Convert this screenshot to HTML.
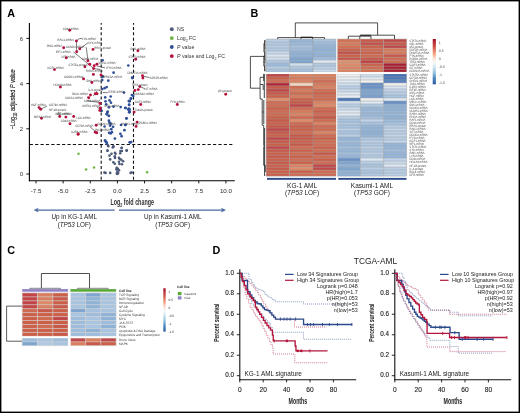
<!DOCTYPE html>
<html><head><meta charset="utf-8">
<style>
html,body{margin:0;padding:0;background:#fff;}
body{width:520px;height:413px;overflow:hidden;position:relative;}
svg{position:absolute;left:0;top:0;will-change:transform;}
text{font-family:"Liberation Sans",sans-serif;}
</style></head><body>
<svg width="520" height="413" viewBox="0 0 520 413">
<rect x="0" y="0" width="520" height="413" fill="#fff"/>

<rect x="0.7" y="0.7" width="518.6" height="411.6" fill="none" stroke="#000" stroke-width="1.4"/>
<text x="7.2" y="16.5" font-size="10.8" font-weight="bold" fill="#000">A</text>
<text x="250.6" y="16.9" font-size="10.8" font-weight="bold" fill="#000">B</text>
<text x="7.2" y="253.8" font-size="10.8" font-weight="bold" fill="#000">C</text>
<text x="212.5" y="253.7" font-size="10.8" font-weight="bold" fill="#000">D</text>
<line x1="29.4" y1="23" x2="29.4" y2="181.3" stroke="#000" stroke-width="1.1"/>
<line x1="28.9" y1="180.8" x2="234.8" y2="180.8" stroke="#000" stroke-width="1.1"/>
<line x1="26.3" y1="174.00" x2="29.4" y2="174.00" stroke="#000" stroke-width="0.9"/>
<text x="21.3" y="176.10" font-size="6" text-anchor="middle" fill="#333">0</text>
<line x1="26.3" y1="128.80" x2="29.4" y2="128.80" stroke="#000" stroke-width="0.9"/>
<text x="21.3" y="130.90" font-size="6" text-anchor="middle" fill="#333">2</text>
<line x1="26.3" y1="83.60" x2="29.4" y2="83.60" stroke="#000" stroke-width="0.9"/>
<text x="21.3" y="85.70" font-size="6" text-anchor="middle" fill="#333">4</text>
<line x1="26.3" y1="38.40" x2="29.4" y2="38.40" stroke="#000" stroke-width="0.9"/>
<text x="21.3" y="40.50" font-size="6" text-anchor="middle" fill="#333">6</text>
<line x1="36.03" y1="180.8" x2="36.03" y2="183.4" stroke="#000" stroke-width="0.9"/>
<text x="36.03" y="192.6" font-size="6.2" text-anchor="middle" fill="#2a2a2a">-7.5</text>
<line x1="63.15" y1="180.8" x2="63.15" y2="183.4" stroke="#000" stroke-width="0.9"/>
<text x="63.15" y="192.6" font-size="6.2" text-anchor="middle" fill="#2a2a2a">-5.0</text>
<line x1="90.28" y1="180.8" x2="90.28" y2="183.4" stroke="#000" stroke-width="0.9"/>
<text x="90.28" y="192.6" font-size="6.2" text-anchor="middle" fill="#2a2a2a">-2.5</text>
<line x1="117.40" y1="180.8" x2="117.40" y2="183.4" stroke="#000" stroke-width="0.9"/>
<text x="117.40" y="192.6" font-size="6.2" text-anchor="middle" fill="#2a2a2a">0.0</text>
<line x1="144.53" y1="180.8" x2="144.53" y2="183.4" stroke="#000" stroke-width="0.9"/>
<text x="144.53" y="192.6" font-size="6.2" text-anchor="middle" fill="#2a2a2a">2.5</text>
<line x1="171.65" y1="180.8" x2="171.65" y2="183.4" stroke="#000" stroke-width="0.9"/>
<text x="171.65" y="192.6" font-size="6.2" text-anchor="middle" fill="#2a2a2a">5.0</text>
<line x1="198.78" y1="180.8" x2="198.78" y2="183.4" stroke="#000" stroke-width="0.9"/>
<text x="198.78" y="192.6" font-size="6.2" text-anchor="middle" fill="#2a2a2a">7.5</text>
<line x1="225.90" y1="180.8" x2="225.90" y2="183.4" stroke="#000" stroke-width="0.9"/>
<text x="225.90" y="192.6" font-size="6.2" text-anchor="middle" fill="#2a2a2a">10.0</text>
<line x1="101.2" y1="23" x2="101.2" y2="180.8" stroke="#111" stroke-width="1.1" stroke-dasharray="3.0 2.35" stroke-dashoffset="1.35"/>
<line x1="133.5" y1="23" x2="133.5" y2="180.8" stroke="#111" stroke-width="1.1" stroke-dasharray="3.0 2.35" stroke-dashoffset="1.35"/>
<line x1="29.4" y1="144.5" x2="234.6" y2="144.5" stroke="#111" stroke-width="1.1" stroke-dasharray="3.2 2.19" stroke-dashoffset="-0.33"/>
<g transform="translate(14.9,99.4) rotate(-90)"><g transform="scale(0.82,1)"><text x="0" y="0" font-size="6.9" text-anchor="middle" fill="#222" stroke="#222" stroke-width="0.15">&#8722;Log<tspan font-size="4.6" dy="1.6">10</tspan><tspan dy="-1.6"> adjusted </tspan><tspan font-style="italic">P</tspan> value</text></g></g>
<g transform="translate(132.2,204.9) scale(0.64,1)"><text x="0" y="0" font-size="8.4" font-weight="bold" text-anchor="middle" fill="#333">Log<tspan font-size="5.6" dy="2">2</tspan><tspan dy="-2"> fold change</tspan></text></g>
<line x1="36" y1="210.1" x2="114.7" y2="210.1" stroke="#4a6aa0" stroke-width="1.2"/>
<path d="M33.6 210.1 L38.6 207.8 L37.4 210.1 L38.6 212.4 Z" fill="#4a6aa0"/>
<line x1="119" y1="210.1" x2="223.5" y2="210.1" stroke="#4a6aa0" stroke-width="1.2"/>
<path d="M226 210.1 L221 207.8 L222.2 210.1 L221 212.4 Z" fill="#4a6aa0"/>
<text x="74.3" y="218.8" font-size="6.3" text-anchor="middle" fill="#222">Up in KG-1 AML</text>
<text x="74.3" y="226.6" font-size="6.3" text-anchor="middle" fill="#222">(<tspan font-style="italic">TP53</tspan> LOF)</text>
<text x="172.7" y="218.8" font-size="6.3" text-anchor="middle" fill="#222">Up in Kasumi-1 AML</text>
<text x="172.7" y="226.6" font-size="6.3" text-anchor="middle" fill="#222">(<tspan font-style="italic">TP53</tspan> GOF)</text>
<circle cx="171.8" cy="29.2" r="1.9" fill="#4b5877"/>
<text x="177" y="31.0" font-size="5.2" fill="#333">NS</text>
<circle cx="171.8" cy="38.1" r="1.9" fill="#6cb33f"/>
<text x="177" y="39.9" font-size="5.2" fill="#333">Log<tspan font-size="3.6" dy="2">2</tspan><tspan dy="-2"> FC</tspan></text>
<circle cx="171.8" cy="47" r="1.9" fill="#2f5096"/>
<text x="177" y="48.8" font-size="5.2" fill="#333"><tspan font-style="italic">P</tspan> value</text>
<circle cx="171.8" cy="56.1" r="1.9" fill="#b3113c"/>
<text x="177" y="57.9" font-size="5.2" fill="#333"><tspan font-style="italic">P</tspan> value and Log<tspan font-size="3.6" dy="2">2</tspan><tspan dy="-2"> FC</tspan></text>
<circle cx="107.1" cy="144.3" r="1.3" fill="#4b5877"/>
<circle cx="108.3" cy="146.1" r="1.3" fill="#4b5877"/>
<circle cx="113.5" cy="146.7" r="1.3" fill="#4b5877"/>
<circle cx="121.6" cy="148" r="1.3" fill="#4b5877"/>
<circle cx="107.4" cy="150.7" r="1.3" fill="#4b5877"/>
<circle cx="114.9" cy="152.8" r="1.3" fill="#4b5877"/>
<circle cx="120.4" cy="151" r="1.3" fill="#4b5877"/>
<circle cx="126.8" cy="150.4" r="1.3" fill="#4b5877"/>
<circle cx="108.1" cy="146" r="1.3" fill="#4b5877"/>
<circle cx="113.3" cy="146.3" r="1.3" fill="#4b5877"/>
<circle cx="112.7" cy="147.5" r="1.3" fill="#4b5877"/>
<circle cx="121.7" cy="147.8" r="1.3" fill="#4b5877"/>
<circle cx="121.9" cy="151" r="1.3" fill="#4b5877"/>
<circle cx="126.5" cy="150.6" r="1.3" fill="#4b5877"/>
<circle cx="107.5" cy="150.6" r="1.3" fill="#4b5877"/>
<circle cx="111.5" cy="153.8" r="1.3" fill="#4b5877"/>
<circle cx="109.5" cy="155.6" r="1.3" fill="#4b5877"/>
<circle cx="115.6" cy="153.8" r="1.3" fill="#4b5877"/>
<circle cx="114.8" cy="156.2" r="1.3" fill="#4b5877"/>
<circle cx="115" cy="157.9" r="1.3" fill="#4b5877"/>
<circle cx="120.2" cy="153.3" r="1.3" fill="#4b5877"/>
<circle cx="119" cy="157.9" r="1.3" fill="#4b5877"/>
<circle cx="119.8" cy="159" r="1.3" fill="#4b5877"/>
<circle cx="110.2" cy="159.4" r="1.3" fill="#4b5877"/>
<circle cx="113.3" cy="162.2" r="1.3" fill="#4b5877"/>
<circle cx="114.8" cy="163.7" r="1.3" fill="#4b5877"/>
<circle cx="119" cy="161.7" r="1.3" fill="#4b5877"/>
<circle cx="121.3" cy="159.8" r="1.3" fill="#4b5877"/>
<circle cx="123.1" cy="161.3" r="1.3" fill="#4b5877"/>
<circle cx="121.9" cy="164.2" r="1.3" fill="#4b5877"/>
<circle cx="119.4" cy="164" r="1.3" fill="#4b5877"/>
<circle cx="116.7" cy="167.7" r="1.3" fill="#4b5877"/>
<circle cx="117.9" cy="168.8" r="1.3" fill="#4b5877"/>
<circle cx="119" cy="170.2" r="1.3" fill="#4b5877"/>
<circle cx="117.3" cy="171.7" r="1.3" fill="#4b5877"/>
<circle cx="117.5" cy="174" r="1.3" fill="#4b5877"/>
<circle cx="104.4" cy="172.5" r="1.3" fill="#4b5877"/>
<circle cx="105.5" cy="172.9" r="1.3" fill="#4b5877"/>
<circle cx="110.2" cy="172.9" r="1.3" fill="#4b5877"/>
<circle cx="130.6" cy="172.9" r="1.3" fill="#4b5877"/>
<circle cx="131.7" cy="172.5" r="1.3" fill="#4b5877"/>
<circle cx="116.4" cy="169.4" r="1.3" fill="#4b5877"/>
<circle cx="118.2" cy="172.8" r="1.3" fill="#4b5877"/>
<circle cx="116.8" cy="173.5" r="1.3" fill="#4b5877"/>
<circle cx="102.6" cy="60.3" r="1.35" fill="#2f5096"/>
<circle cx="128.3" cy="65.5" r="1.35" fill="#2f5096"/>
<circle cx="113.6" cy="72.7" r="1.35" fill="#2f5096"/>
<circle cx="108.3" cy="80.7" r="1.35" fill="#2f5096"/>
<circle cx="102.2" cy="80.1" r="1.35" fill="#2f5096"/>
<circle cx="102.6" cy="76.9" r="1.35" fill="#2f5096"/>
<circle cx="104.6" cy="88.2" r="1.35" fill="#2f5096"/>
<circle cx="106.7" cy="87.1" r="1.35" fill="#2f5096"/>
<circle cx="102.2" cy="89" r="1.35" fill="#2f5096"/>
<circle cx="124" cy="92.6" r="1.35" fill="#2f5096"/>
<circle cx="105.2" cy="97.4" r="1.35" fill="#2f5096"/>
<circle cx="110.7" cy="96.5" r="1.35" fill="#2f5096"/>
<circle cx="105.5" cy="101.3" r="1.35" fill="#2f5096"/>
<circle cx="109.5" cy="100.4" r="1.35" fill="#2f5096"/>
<circle cx="111" cy="102.7" r="1.35" fill="#2f5096"/>
<circle cx="106.2" cy="104.3" r="1.35" fill="#2f5096"/>
<circle cx="108.9" cy="107.3" r="1.35" fill="#2f5096"/>
<circle cx="113.5" cy="106.7" r="1.35" fill="#2f5096"/>
<circle cx="120.7" cy="107.1" r="1.35" fill="#2f5096"/>
<circle cx="125.2" cy="108" r="1.35" fill="#2f5096"/>
<circle cx="107.7" cy="111.6" r="1.35" fill="#2f5096"/>
<circle cx="101" cy="110.7" r="1.35" fill="#2f5096"/>
<circle cx="106.5" cy="114" r="1.35" fill="#2f5096"/>
<circle cx="132.1" cy="77.7" r="1.35" fill="#2f5096"/>
<circle cx="130.9" cy="98.3" r="1.35" fill="#2f5096"/>
<circle cx="128.8" cy="101" r="1.35" fill="#2f5096"/>
<circle cx="129.1" cy="104.7" r="1.35" fill="#2f5096"/>
<circle cx="128.8" cy="108.5" r="1.35" fill="#2f5096"/>
<circle cx="129.4" cy="111.6" r="1.35" fill="#2f5096"/>
<circle cx="131.9" cy="95" r="1.35" fill="#2f5096"/>
<circle cx="132.5" cy="78.1" r="1.35" fill="#2f5096"/>
<circle cx="133.2" cy="95.9" r="1.35" fill="#2f5096"/>
<circle cx="131" cy="98.7" r="1.35" fill="#2f5096"/>
<circle cx="129.6" cy="101.1" r="1.35" fill="#2f5096"/>
<circle cx="129.2" cy="105" r="1.35" fill="#2f5096"/>
<circle cx="129.6" cy="101.2" r="1.35" fill="#2f5096"/>
<circle cx="125.6" cy="107.9" r="1.35" fill="#2f5096"/>
<circle cx="129.6" cy="109.7" r="1.35" fill="#2f5096"/>
<circle cx="129.8" cy="112.1" r="1.35" fill="#2f5096"/>
<circle cx="126.5" cy="118.4" r="1.35" fill="#2f5096"/>
<circle cx="125.6" cy="124.8" r="1.35" fill="#2f5096"/>
<circle cx="129.8" cy="142.3" r="1.35" fill="#2f5096"/>
<circle cx="128.2" cy="109.6" r="1.35" fill="#2f5096"/>
<circle cx="129.2" cy="112.3" r="1.35" fill="#2f5096"/>
<circle cx="101.6" cy="110.8" r="1.35" fill="#2f5096"/>
<circle cx="107.4" cy="112.3" r="1.35" fill="#2f5096"/>
<circle cx="107.1" cy="114.4" r="1.35" fill="#2f5096"/>
<circle cx="108.9" cy="115.9" r="1.35" fill="#2f5096"/>
<circle cx="126.4" cy="118.3" r="1.35" fill="#2f5096"/>
<circle cx="108.9" cy="120.7" r="1.35" fill="#2f5096"/>
<circle cx="109.5" cy="122.5" r="1.35" fill="#2f5096"/>
<circle cx="110.7" cy="123.7" r="1.35" fill="#2f5096"/>
<circle cx="104.6" cy="126.5" r="1.35" fill="#2f5096"/>
<circle cx="110.1" cy="125.6" r="1.35" fill="#2f5096"/>
<circle cx="113.1" cy="126.8" r="1.35" fill="#2f5096"/>
<circle cx="121" cy="125" r="1.35" fill="#2f5096"/>
<circle cx="125.2" cy="125" r="1.35" fill="#2f5096"/>
<circle cx="111.3" cy="129.2" r="1.35" fill="#2f5096"/>
<circle cx="124.4" cy="130.2" r="1.35" fill="#2f5096"/>
<circle cx="109.1" cy="132.8" r="1.35" fill="#2f5096"/>
<circle cx="110.7" cy="133.4" r="1.35" fill="#2f5096"/>
<circle cx="111.9" cy="132.2" r="1.35" fill="#2f5096"/>
<circle cx="120.4" cy="133.8" r="1.35" fill="#2f5096"/>
<circle cx="121.6" cy="136.2" r="1.35" fill="#2f5096"/>
<circle cx="114.9" cy="138.6" r="1.35" fill="#2f5096"/>
<circle cx="105" cy="140.7" r="1.35" fill="#2f5096"/>
<circle cx="106.7" cy="142.5" r="1.35" fill="#2f5096"/>
<circle cx="130" cy="142.3" r="1.35" fill="#2f5096"/>
<circle cx="105.2" cy="140.6" r="1.35" fill="#2f5096"/>
<circle cx="106.3" cy="142.3" r="1.35" fill="#2f5096"/>
<circle cx="131.2" cy="142.1" r="1.35" fill="#2f5096"/>
<circle cx="78.5" cy="153.8" r="1.25" fill="#6cb33f"/>
<circle cx="86.1" cy="169.5" r="1.25" fill="#6cb33f"/>
<circle cx="94" cy="167.6" r="1.25" fill="#6cb33f"/>
<circle cx="147.1" cy="172.2" r="1.25" fill="#6cb33f"/>
<line x1="76.4" y1="40.9" x2="79.4" y2="38.6" stroke="#222" stroke-width="0.6"/>
<line x1="79.4" y1="38.6" x2="82" y2="38.4" stroke="#222" stroke-width="0.6"/>
<line x1="76.4" y1="40.9" x2="76.7" y2="51.8" stroke="#222" stroke-width="0.6"/>
<line x1="79.8" y1="48.7" x2="85" y2="45" stroke="#222" stroke-width="0.6"/>
<line x1="85" y1="45" x2="88" y2="42.7" stroke="#222" stroke-width="0.6"/>
<line x1="86.3" y1="47.2" x2="87.9" y2="60.8" stroke="#222" stroke-width="0.6"/>
<line x1="73.6" y1="52" x2="93.6" y2="68.4" stroke="#222" stroke-width="0.6"/>
<line x1="96.9" y1="66" x2="105" y2="67.8" stroke="#222" stroke-width="0.6"/>
<line x1="83.6" y1="78.9" x2="82.4" y2="76.6" stroke="#222" stroke-width="0.6"/>
<line x1="40.7" y1="109.2" x2="47" y2="106" stroke="#222" stroke-width="0.6"/>
<line x1="58.8" y1="112.3" x2="59.7" y2="116.5" stroke="#222" stroke-width="0.6"/>
<line x1="95.5" y1="131.5" x2="90" y2="126.8" stroke="#222" stroke-width="0.6"/>
<line x1="142.6" y1="76" x2="149.5" y2="77.6" stroke="#222" stroke-width="0.6"/>
<line x1="139.8" y1="86.6" x2="144.5" y2="88.5" stroke="#222" stroke-width="0.6"/>
<line x1="93.6" y1="68.6" x2="100.5" y2="69.5" stroke="#222" stroke-width="0.6"/>
<line x1="101" y1="74.9" x2="104" y2="76.2" stroke="#222" stroke-width="0.6"/>
<line x1="95.3" y1="93.8" x2="97" y2="91" stroke="#222" stroke-width="0.6"/>
<line x1="102.8" y1="92.6" x2="107.7" y2="92.6" stroke="#222" stroke-width="0.6"/>
<line x1="93.1" y1="95.8" x2="96.8" y2="92.8" stroke="#222" stroke-width="0.6"/>
<line x1="87.1" y1="97" x2="89.5" y2="98.3" stroke="#222" stroke-width="0.6"/>
<line x1="87.1" y1="100.7" x2="99.8" y2="102.5" stroke="#222" stroke-width="0.6"/>
<line x1="96.8" y1="106.7" x2="99.8" y2="109.2" stroke="#222" stroke-width="0.6"/>
<line x1="82.9" y1="78.3" x2="84.1" y2="79.5" stroke="#222" stroke-width="0.6"/>
<line x1="101.5" y1="75" x2="104.5" y2="76.5" stroke="#222" stroke-width="0.6"/>
<circle cx="69.7" cy="30.3" r="1.45" fill="#b3113c"/>
<circle cx="76.4" cy="40.9" r="1.45" fill="#b3113c"/>
<circle cx="63.7" cy="47.8" r="1.45" fill="#b3113c"/>
<circle cx="79.8" cy="48.7" r="1.45" fill="#b3113c"/>
<circle cx="76.7" cy="51.8" r="1.45" fill="#b3113c"/>
<circle cx="66.3" cy="57.7" r="1.45" fill="#b3113c"/>
<circle cx="84.9" cy="66.8" r="1.45" fill="#b3113c"/>
<circle cx="54.5" cy="69.6" r="1.45" fill="#b3113c"/>
<circle cx="93" cy="49.4" r="1.45" fill="#b3113c"/>
<circle cx="87.9" cy="60.8" r="1.45" fill="#b3113c"/>
<circle cx="89.7" cy="64.2" r="1.45" fill="#b3113c"/>
<circle cx="94.2" cy="65.7" r="1.45" fill="#b3113c"/>
<circle cx="96.9" cy="64.2" r="1.45" fill="#b3113c"/>
<circle cx="93.6" cy="68.6" r="1.45" fill="#b3113c"/>
<circle cx="137.9" cy="50.8" r="1.45" fill="#b3113c"/>
<circle cx="135.7" cy="59.3" r="1.45" fill="#b3113c"/>
<circle cx="83.6" cy="78.9" r="1.45" fill="#b3113c"/>
<circle cx="60.4" cy="87" r="1.45" fill="#b3113c"/>
<circle cx="39.1" cy="107.6" r="1.45" fill="#b3113c"/>
<circle cx="40.7" cy="109.2" r="1.45" fill="#b3113c"/>
<circle cx="93.4" cy="74.4" r="1.45" fill="#b3113c"/>
<circle cx="101" cy="74.9" r="1.45" fill="#b3113c"/>
<circle cx="91.9" cy="82.5" r="1.45" fill="#b3113c"/>
<circle cx="90.5" cy="95" r="1.45" fill="#b3113c"/>
<circle cx="95.3" cy="93.8" r="1.45" fill="#b3113c"/>
<circle cx="97" cy="93.8" r="1.45" fill="#b3113c"/>
<circle cx="88.7" cy="97.7" r="1.45" fill="#b3113c"/>
<circle cx="100" cy="103.5" r="1.45" fill="#b3113c"/>
<circle cx="100.4" cy="108" r="1.45" fill="#b3113c"/>
<circle cx="99.8" cy="110.4" r="1.45" fill="#b3113c"/>
<circle cx="142.5" cy="75.7" r="1.45" fill="#b3113c"/>
<circle cx="142.9" cy="78.1" r="1.45" fill="#b3113c"/>
<circle cx="139.8" cy="86.6" r="1.45" fill="#b3113c"/>
<circle cx="138.3" cy="89.6" r="1.45" fill="#b3113c"/>
<circle cx="134.9" cy="90.5" r="1.45" fill="#b3113c"/>
<circle cx="140.7" cy="104.5" r="1.45" fill="#b3113c"/>
<circle cx="177.3" cy="104.5" r="1.45" fill="#b3113c"/>
<circle cx="225.7" cy="94.2" r="1.45" fill="#b3113c"/>
<circle cx="41.5" cy="118.3" r="1.45" fill="#b3113c"/>
<circle cx="59.7" cy="116.5" r="1.45" fill="#b3113c"/>
<circle cx="65.9" cy="117.1" r="1.45" fill="#b3113c"/>
<circle cx="73.7" cy="116.5" r="1.45" fill="#b3113c"/>
<circle cx="70" cy="123.7" r="1.45" fill="#b3113c"/>
<circle cx="78.2" cy="134.3" r="1.45" fill="#b3113c"/>
<circle cx="96.2" cy="125.3" r="1.45" fill="#b3113c"/>
<circle cx="95.3" cy="132.2" r="1.45" fill="#b3113c"/>
<circle cx="96.8" cy="132.8" r="1.45" fill="#b3113c"/>
<circle cx="78" cy="134" r="1.45" fill="#b3113c"/>
<circle cx="134.1" cy="112.1" r="1.45" fill="#b3113c"/>
<circle cx="137.1" cy="122.1" r="1.45" fill="#b3113c"/>
<circle cx="136.1" cy="126.4" r="1.45" fill="#b3113c"/>
<text transform="translate(62.8,29.60) skewX(0.5) scale(0.86,1)" font-size="3.2" fill="#3a3a3a">CD44-mRNA</text>
<text transform="translate(57.6,41.10) skewX(0.5) scale(0.86,1)" font-size="3.2" fill="#3a3a3a">RAC1-mRNA</text>
<text transform="translate(46.7,47.20) skewX(0.5) scale(0.86,1)" font-size="3.2" fill="#3a3a3a">PIM1-mRNA</text>
<text transform="translate(66,47.60) skewX(0.5) scale(0.86,1)" font-size="3.2" fill="#3a3a3a">CCND3-mRNA</text>
<text transform="translate(55.8,53.40) skewX(0.5) scale(0.86,1)" font-size="3.2" fill="#3a3a3a">IRF1-mRNA</text>
<text transform="translate(61.3,57.70) skewX(0.5) scale(0.86,1)" font-size="3.2" fill="#3a3a3a">SET-mRNA</text>
<text transform="translate(68.5,65.50) skewX(0.5) scale(0.86,1)" font-size="3.2" fill="#3a3a3a">STAT5a-protein</text>
<text transform="translate(47.4,68.60) skewX(0.5) scale(0.86,1)" font-size="3.2" fill="#3a3a3a">IKZF1-mRNA</text>
<text transform="translate(82,39.80) skewX(0.5) scale(0.86,1)" font-size="3.2" fill="#3a3a3a">LYN-mRNA</text>
<text transform="translate(88,44.10) skewX(0.5) scale(0.86,1)" font-size="3.2" fill="#3a3a3a">SYK-mRNA</text>
<text transform="translate(94.2,49.00) skewX(0.5) scale(0.86,1)" font-size="3.2" fill="#3a3a3a">RRAS-protein</text>
<text transform="translate(82,59.90) skewX(0.5) scale(0.86,1)" font-size="3.2" fill="#3a3a3a">CDK2-mRNA</text>
<text transform="translate(98.4,64.40) skewX(0.5) scale(0.86,1)" font-size="3.2" fill="#3a3a3a">MEIS1-mRNA</text>
<text transform="translate(106.3,69.20) skewX(0.5) scale(0.86,1)" font-size="3.2" fill="#3a3a3a">IFYN-mRNA</text>
<text transform="translate(130.3,50.20) skewX(0.5) scale(0.86,1)" font-size="3.2" fill="#3a3a3a">IDH1-mRNA</text>
<text transform="translate(128.5,58.30) skewX(0.5) scale(0.86,1)" font-size="3.2" fill="#3a3a3a">STAT3-mRNA</text>
<text transform="translate(64.3,77.50) skewX(0.5) scale(0.86,1)" font-size="3.2" fill="#3a3a3a">CCND3-mRNA</text>
<text transform="translate(53.4,86.10) skewX(0.5) scale(0.86,1)" font-size="3.2" fill="#3a3a3a">HOXA9-mRNA</text>
<text transform="translate(72.2,94.80) skewX(0.5) scale(0.86,1)" font-size="3.2" fill="#3a3a3a">BCL6-mRNA</text>
<text transform="translate(64.9,99.30) skewX(0.5) scale(0.86,1)" font-size="3.2" fill="#3a3a3a">SOCS1-mRNA</text>
<text transform="translate(31,106.30) skewX(0.5) scale(0.86,1)" font-size="3.2" fill="#3a3a3a">HGF-mRNA</text>
<text transform="translate(49.2,106.30) skewX(0.5) scale(0.86,1)" font-size="3.2" fill="#3a3a3a">CD79A-mRNA</text>
<text transform="translate(49.2,111.20) skewX(0.5) scale(0.86,1)" font-size="3.2" fill="#3a3a3a">NF-kB-protein</text>
<text transform="translate(57,114.80) skewX(0.5) scale(0.86,1)" font-size="3.2" fill="#3a3a3a">WT1-mRNA</text>
<text transform="translate(85.9,72.40) skewX(0.5) scale(0.86,1)" font-size="3.2" fill="#3a3a3a">RHOA-mRNA</text>
<text transform="translate(104,78.10) skewX(0.5) scale(0.86,1)" font-size="3.2" fill="#3a3a3a">PRKCA-mRNA</text>
<text transform="translate(85.9,81.50) skewX(0.5) scale(0.86,1)" font-size="3.2" fill="#3a3a3a">IDH2-mRNA</text>
<text transform="translate(88.3,90.60) skewX(0.5) scale(0.86,1)" font-size="3.2" fill="#3a3a3a">IL-6-protein</text>
<text transform="translate(82.3,106.90) skewX(0.5) scale(0.86,1)" font-size="3.2" fill="#3a3a3a">CHEK1-mRNA</text>
<text transform="translate(84,102.10) skewX(0.5) scale(0.86,1)" font-size="3.2" fill="#3a3a3a">CDK6-mRNA</text>
<text transform="translate(108.3,93.30) skewX(0.5) scale(0.86,1)" font-size="3.2" fill="#3a3a3a">EIF4E-mRNA</text>
<text transform="translate(104.6,106.90) skewX(0.5) scale(0.86,1)" font-size="3.2" fill="#3a3a3a">MYC-mRNA</text>
<text transform="translate(127.4,74.10) skewX(0.5) scale(0.86,1)" font-size="3.2" fill="#3a3a3a">DNMT3A-mRNA</text>
<text transform="translate(149.8,79.20) skewX(0.5) scale(0.86,1)" font-size="3.2" fill="#3a3a3a">CDF2R-mRNA</text>
<text transform="translate(131.7,86.40) skewX(0.5) scale(0.86,1)" font-size="3.2" fill="#3a3a3a">TP53-protein</text>
<text transform="translate(144.4,90.40) skewX(0.5) scale(0.86,1)" font-size="3.2" fill="#3a3a3a">KIT-mRNA</text>
<text transform="translate(134,95.00) skewX(0.5) scale(0.86,1)" font-size="3.2" fill="#3a3a3a">CDKN2A-mRNA</text>
<text transform="translate(134.7,103.10) skewX(0.5) scale(0.86,1)" font-size="3.2" fill="#3a3a3a">GOF3-mRNA</text>
<text transform="translate(170.4,102.50) skewX(0.5) scale(0.86,1)" font-size="3.2" fill="#3a3a3a">FYN-mRNA</text>
<text transform="translate(218.1,92.20) skewX(0.5) scale(0.86,1)" font-size="3.2" fill="#3a3a3a">p53-protein</text>
<text transform="translate(134.7,111.10) skewX(0.5) scale(0.86,1)" font-size="3.2" fill="#3a3a3a">Tubulin-protein</text>
<text transform="translate(138.9,123.80) skewX(0.5) scale(0.86,1)" font-size="3.2" fill="#3a3a3a">PCBD1-mRNA</text>
<text transform="translate(34,117.50) skewX(0.5) scale(0.86,1)" font-size="3.2" fill="#3a3a3a">MEIS2-mRNA</text>
<text transform="translate(55.2,115.20) skewX(0.5) scale(0.86,1)" font-size="3.2" fill="#3a3a3a">WT1-mRNA</text>
<text transform="translate(76.4,118.50) skewX(0.5) scale(0.86,1)" font-size="3.2" fill="#3a3a3a">LCK-mRNA</text>
<text transform="translate(60.7,122.10) skewX(0.5) scale(0.86,1)" font-size="3.2" fill="#3a3a3a">CD44-mRNA</text>
<text transform="translate(71,132.80) skewX(0.5) scale(0.86,1)" font-size="3.2" fill="#3a3a3a">IL2RA-mRNA</text>
<text transform="translate(75.6,127.30) skewX(0.5) scale(0.86,1)" font-size="3.2" fill="#3a3a3a">CD79A-mRNA</text>
<text transform="translate(97.4,124.50) skewX(0.5) scale(0.86,1)" font-size="3.2" fill="#3a3a3a">CDKN1-mRNA</text>
<text transform="translate(94.4,130.60) skewX(0.5) scale(0.86,1)" font-size="3.2" fill="#3a3a3a">JAK3-mRNA</text>
<text transform="translate(120.8,124.80) skewX(0.5) scale(0.86,1)" font-size="3.2" fill="#3a3a3a">MAPK1-mRNA</text>
<rect x="266.20" y="39.10" width="23.40" height="3.006" fill="#b8cfe6"/>
<rect x="337.30" y="39.10" width="23.10" height="3.006" fill="#d4704f"/>
<rect x="289.60" y="39.10" width="23.40" height="3.006" fill="#94b6d9"/>
<rect x="360.40" y="39.10" width="23.20" height="3.006" fill="#c85848"/>
<rect x="313.00" y="39.10" width="23.30" height="3.006" fill="#a8c4e0"/>
<rect x="383.60" y="39.10" width="23.00" height="3.006" fill="#c04848"/>
<rect x="266.20" y="42.11" width="23.40" height="3.006" fill="#b0c9e3"/>
<rect x="337.30" y="42.11" width="23.10" height="3.006" fill="#d87a5a"/>
<rect x="289.60" y="42.11" width="23.40" height="3.006" fill="#9ab9da"/>
<rect x="360.40" y="42.11" width="23.20" height="3.006" fill="#c4504a"/>
<rect x="313.00" y="42.11" width="23.30" height="3.006" fill="#9ebcdc"/>
<rect x="383.60" y="42.11" width="23.00" height="3.006" fill="#c85848"/>
<rect x="266.20" y="45.11" width="23.40" height="3.006" fill="#b5cce4"/>
<rect x="337.30" y="45.11" width="23.10" height="3.006" fill="#d4704f"/>
<rect x="289.60" y="45.11" width="23.40" height="3.006" fill="#a5c1df"/>
<rect x="360.40" y="45.11" width="23.20" height="3.006" fill="#cc5f48"/>
<rect x="313.00" y="45.11" width="23.30" height="3.006" fill="#95b6da"/>
<rect x="383.60" y="45.11" width="23.00" height="3.006" fill="#c04848"/>
<rect x="266.20" y="48.12" width="23.40" height="3.006" fill="#b0c8e2"/>
<rect x="337.30" y="48.12" width="23.10" height="3.006" fill="#cc5f48"/>
<rect x="289.60" y="48.12" width="23.40" height="3.006" fill="#9ebcdc"/>
<rect x="360.40" y="48.12" width="23.20" height="3.006" fill="#d06a50"/>
<rect x="313.00" y="48.12" width="23.30" height="3.006" fill="#8fb2d7"/>
<rect x="383.60" y="48.12" width="23.00" height="3.006" fill="#d87a5a"/>
<rect x="266.20" y="51.12" width="23.40" height="3.006" fill="#c5d8ec"/>
<rect x="337.30" y="51.12" width="23.10" height="3.006" fill="#c4504a"/>
<rect x="289.60" y="51.12" width="23.40" height="3.006" fill="#8fb2d7"/>
<rect x="360.40" y="51.12" width="23.20" height="3.006" fill="#cc6048"/>
<rect x="313.00" y="51.12" width="23.30" height="3.006" fill="#95b6da"/>
<rect x="383.60" y="51.12" width="23.00" height="3.006" fill="#d87a5a"/>
<rect x="266.20" y="54.13" width="23.40" height="3.006" fill="#d8e5f0"/>
<rect x="337.30" y="54.13" width="23.10" height="3.006" fill="#cc5f48"/>
<rect x="289.60" y="54.13" width="23.40" height="3.006" fill="#8fb2d7"/>
<rect x="360.40" y="54.13" width="23.20" height="3.006" fill="#d06a50"/>
<rect x="313.00" y="54.13" width="23.30" height="3.006" fill="#8fb2d7"/>
<rect x="383.60" y="54.13" width="23.00" height="3.006" fill="#c85848"/>
<rect x="266.20" y="57.14" width="23.40" height="3.006" fill="#d0dfee"/>
<rect x="337.30" y="57.14" width="23.10" height="3.006" fill="#c85848"/>
<rect x="289.60" y="57.14" width="23.40" height="3.006" fill="#7ea6d0"/>
<rect x="360.40" y="57.14" width="23.20" height="3.006" fill="#c85848"/>
<rect x="313.00" y="57.14" width="23.30" height="3.006" fill="#9ebcdc"/>
<rect x="383.60" y="57.14" width="23.00" height="3.006" fill="#d06a50"/>
<rect x="266.20" y="60.14" width="23.40" height="3.006" fill="#b0c8e2"/>
<rect x="337.30" y="60.14" width="23.10" height="3.006" fill="#e08f6c"/>
<rect x="289.60" y="60.14" width="23.40" height="3.006" fill="#7ea6d0"/>
<rect x="360.40" y="60.14" width="23.20" height="3.006" fill="#bf4040"/>
<rect x="313.00" y="60.14" width="23.30" height="3.006" fill="#dde8f2"/>
<rect x="383.60" y="60.14" width="23.00" height="3.006" fill="#d06a50"/>
<rect x="266.20" y="63.15" width="23.40" height="3.006" fill="#9bbbdc"/>
<rect x="337.30" y="63.15" width="23.10" height="3.006" fill="#e08a66"/>
<rect x="289.60" y="63.15" width="23.40" height="3.006" fill="#d0dfee"/>
<rect x="360.40" y="63.15" width="23.20" height="3.006" fill="#cc6048"/>
<rect x="313.00" y="63.15" width="23.30" height="3.006" fill="#b0c8e2"/>
<rect x="383.60" y="63.15" width="23.00" height="3.006" fill="#a82030"/>
<rect x="266.20" y="66.15" width="23.40" height="3.006" fill="#b4cbe4"/>
<rect x="337.30" y="66.15" width="23.10" height="3.006" fill="#dc8260"/>
<rect x="289.60" y="66.15" width="23.40" height="3.006" fill="#b0c8e2"/>
<rect x="360.40" y="66.15" width="23.20" height="3.006" fill="#d06a50"/>
<rect x="313.00" y="66.15" width="23.30" height="3.006" fill="#b8cfe6"/>
<rect x="383.60" y="66.15" width="23.00" height="3.006" fill="#a82030"/>
<rect x="266.20" y="69.16" width="23.40" height="3.006" fill="#a8c4e0"/>
<rect x="337.30" y="69.16" width="23.10" height="3.006" fill="#dc8260"/>
<rect x="289.60" y="69.16" width="23.40" height="3.006" fill="#a5c1df"/>
<rect x="360.40" y="69.16" width="23.20" height="3.006" fill="#d47050"/>
<rect x="313.00" y="69.16" width="23.30" height="3.006" fill="#c8daec"/>
<rect x="383.60" y="69.16" width="23.00" height="3.006" fill="#a82030"/>
<rect x="266.20" y="73.92" width="23.40" height="3.006" fill="#c04848"/>
<rect x="337.30" y="73.92" width="23.10" height="3.006" fill="#f0f0f0"/>
<rect x="289.60" y="73.92" width="23.40" height="3.006" fill="#dc8260"/>
<rect x="360.40" y="73.92" width="23.20" height="3.006" fill="#d0dfee"/>
<rect x="313.00" y="73.92" width="23.30" height="3.006" fill="#dc8260"/>
<rect x="383.60" y="73.92" width="23.00" height="3.006" fill="#4470b4"/>
<rect x="266.20" y="76.92" width="23.40" height="3.006" fill="#cc5f48"/>
<rect x="337.30" y="76.92" width="23.10" height="3.006" fill="#e8eef4"/>
<rect x="289.60" y="76.92" width="23.40" height="3.006" fill="#d87a5a"/>
<rect x="360.40" y="76.92" width="23.20" height="3.006" fill="#e0eaf2"/>
<rect x="313.00" y="76.92" width="23.30" height="3.006" fill="#d87a5a"/>
<rect x="383.60" y="76.92" width="23.00" height="3.006" fill="#4a78b8"/>
<rect x="266.20" y="79.93" width="23.40" height="3.006" fill="#d06a50"/>
<rect x="337.30" y="79.93" width="23.10" height="3.006" fill="#dfe8f0"/>
<rect x="289.60" y="79.93" width="23.40" height="3.006" fill="#dc8260"/>
<rect x="360.40" y="79.93" width="23.20" height="3.006" fill="#f0f0f0"/>
<rect x="313.00" y="79.93" width="23.30" height="3.006" fill="#d06a50"/>
<rect x="383.60" y="79.93" width="23.00" height="3.006" fill="#5582c0"/>
<rect x="266.20" y="82.93" width="23.40" height="3.006" fill="#b02838"/>
<rect x="337.30" y="82.93" width="23.10" height="3.006" fill="#d0dfee"/>
<rect x="289.60" y="82.93" width="23.40" height="3.006" fill="#f4d8c4"/>
<rect x="360.40" y="82.93" width="23.20" height="3.006" fill="#6a92c8"/>
<rect x="313.00" y="82.93" width="23.30" height="3.006" fill="#d87a5a"/>
<rect x="383.60" y="82.93" width="23.00" height="3.006" fill="#f0f0f0"/>
<rect x="266.20" y="85.94" width="23.40" height="3.006" fill="#c85848"/>
<rect x="337.30" y="85.94" width="23.10" height="3.006" fill="#b8cfe6"/>
<rect x="289.60" y="85.94" width="23.40" height="3.006" fill="#d06a50"/>
<rect x="360.40" y="85.94" width="23.20" height="3.006" fill="#6a92c8"/>
<rect x="313.00" y="85.94" width="23.30" height="3.006" fill="#dc8260"/>
<rect x="383.60" y="85.94" width="23.00" height="3.006" fill="#d8e4f0"/>
<rect x="266.20" y="88.95" width="23.40" height="3.006" fill="#c04848"/>
<rect x="337.30" y="88.95" width="23.10" height="3.006" fill="#c8daec"/>
<rect x="289.60" y="88.95" width="23.40" height="3.006" fill="#d87a5a"/>
<rect x="360.40" y="88.95" width="23.20" height="3.006" fill="#7ea6d0"/>
<rect x="313.00" y="88.95" width="23.30" height="3.006" fill="#d06a50"/>
<rect x="383.60" y="88.95" width="23.00" height="3.006" fill="#c0d4ea"/>
<rect x="266.20" y="91.95" width="23.40" height="3.006" fill="#c85848"/>
<rect x="337.30" y="91.95" width="23.10" height="3.006" fill="#dde8f2"/>
<rect x="289.60" y="91.95" width="23.40" height="3.006" fill="#d06a50"/>
<rect x="360.40" y="91.95" width="23.20" height="3.006" fill="#7ea6d0"/>
<rect x="313.00" y="91.95" width="23.30" height="3.006" fill="#cc6048"/>
<rect x="383.60" y="91.95" width="23.00" height="3.006" fill="#b8cfe6"/>
<rect x="266.20" y="94.96" width="23.40" height="3.006" fill="#cc5f48"/>
<rect x="337.30" y="94.96" width="23.10" height="3.006" fill="#e8eef4"/>
<rect x="289.60" y="94.96" width="23.40" height="3.006" fill="#d87a5a"/>
<rect x="360.40" y="94.96" width="23.20" height="3.006" fill="#7a9ecf"/>
<rect x="313.00" y="94.96" width="23.30" height="3.006" fill="#d06a50"/>
<rect x="383.60" y="94.96" width="23.00" height="3.006" fill="#a8c4e0"/>
<rect x="266.20" y="97.96" width="23.40" height="3.006" fill="#e0906c"/>
<rect x="337.30" y="97.96" width="23.10" height="3.006" fill="#4a78b8"/>
<rect x="289.60" y="97.96" width="23.40" height="3.006" fill="#cc6048"/>
<rect x="360.40" y="97.96" width="23.20" height="3.006" fill="#f0f0f0"/>
<rect x="313.00" y="97.96" width="23.30" height="3.006" fill="#d06a50"/>
<rect x="383.60" y="97.96" width="23.00" height="3.006" fill="#e0eaf2"/>
<rect x="266.20" y="100.97" width="23.40" height="3.006" fill="#d06a50"/>
<rect x="337.30" y="100.97" width="23.10" height="3.006" fill="#d0dfee"/>
<rect x="289.60" y="100.97" width="23.40" height="3.006" fill="#c85848"/>
<rect x="360.40" y="100.97" width="23.20" height="3.006" fill="#dde8f2"/>
<rect x="313.00" y="100.97" width="23.30" height="3.006" fill="#dc8260"/>
<rect x="383.60" y="100.97" width="23.00" height="3.006" fill="#6a92c8"/>
<rect x="266.20" y="103.98" width="23.40" height="3.006" fill="#d06a50"/>
<rect x="337.30" y="103.98" width="23.10" height="3.006" fill="#b8cfe6"/>
<rect x="289.60" y="103.98" width="23.40" height="3.006" fill="#c04848"/>
<rect x="360.40" y="103.98" width="23.20" height="3.006" fill="#b0c8e2"/>
<rect x="313.00" y="103.98" width="23.30" height="3.006" fill="#e08a66"/>
<rect x="383.60" y="103.98" width="23.00" height="3.006" fill="#8fb2d7"/>
<rect x="266.20" y="106.98" width="23.40" height="3.006" fill="#cc5f48"/>
<rect x="337.30" y="106.98" width="23.10" height="3.006" fill="#c8daec"/>
<rect x="289.60" y="106.98" width="23.40" height="3.006" fill="#d06a50"/>
<rect x="360.40" y="106.98" width="23.20" height="3.006" fill="#9ab9da"/>
<rect x="313.00" y="106.98" width="23.30" height="3.006" fill="#d06a50"/>
<rect x="383.60" y="106.98" width="23.00" height="3.006" fill="#8fb2d7"/>
<rect x="266.20" y="109.99" width="23.40" height="3.006" fill="#d06a50"/>
<rect x="337.30" y="109.99" width="23.10" height="3.006" fill="#dde8f2"/>
<rect x="289.60" y="109.99" width="23.40" height="3.006" fill="#d87a5a"/>
<rect x="360.40" y="109.99" width="23.20" height="3.006" fill="#9ebcdc"/>
<rect x="313.00" y="109.99" width="23.30" height="3.006" fill="#cc5f48"/>
<rect x="383.60" y="109.99" width="23.00" height="3.006" fill="#95b6da"/>
<rect x="266.20" y="112.99" width="23.40" height="3.006" fill="#d06a50"/>
<rect x="337.30" y="112.99" width="23.10" height="3.006" fill="#e0eaf2"/>
<rect x="289.60" y="112.99" width="23.40" height="3.006" fill="#dc8260"/>
<rect x="360.40" y="112.99" width="23.20" height="3.006" fill="#9ab9da"/>
<rect x="313.00" y="112.99" width="23.30" height="3.006" fill="#d06a50"/>
<rect x="383.60" y="112.99" width="23.00" height="3.006" fill="#9ab9da"/>
<rect x="266.20" y="116.00" width="23.40" height="3.006" fill="#cc5f48"/>
<rect x="337.30" y="116.00" width="23.10" height="3.006" fill="#b8cfe6"/>
<rect x="289.60" y="116.00" width="23.40" height="3.006" fill="#d06a50"/>
<rect x="360.40" y="116.00" width="23.20" height="3.006" fill="#a5c1df"/>
<rect x="313.00" y="116.00" width="23.30" height="3.006" fill="#c85848"/>
<rect x="383.60" y="116.00" width="23.00" height="3.006" fill="#8fb2d7"/>
<rect x="266.20" y="119.01" width="23.40" height="3.006" fill="#c85848"/>
<rect x="337.30" y="119.01" width="23.10" height="3.006" fill="#a8c4e0"/>
<rect x="289.60" y="119.01" width="23.40" height="3.006" fill="#e08a66"/>
<rect x="360.40" y="119.01" width="23.20" height="3.006" fill="#c0d4ea"/>
<rect x="313.00" y="119.01" width="23.30" height="3.006" fill="#d06a50"/>
<rect x="383.60" y="119.01" width="23.00" height="3.006" fill="#9ebcdc"/>
<rect x="266.20" y="122.01" width="23.40" height="3.006" fill="#cc5f48"/>
<rect x="337.30" y="122.01" width="23.10" height="3.006" fill="#b0c8e2"/>
<rect x="289.60" y="122.01" width="23.40" height="3.006" fill="#d06a50"/>
<rect x="360.40" y="122.01" width="23.20" height="3.006" fill="#a8c4e0"/>
<rect x="313.00" y="122.01" width="23.30" height="3.006" fill="#dc8260"/>
<rect x="383.60" y="122.01" width="23.00" height="3.006" fill="#a8c4e0"/>
<rect x="266.20" y="125.02" width="23.40" height="3.006" fill="#c85848"/>
<rect x="337.30" y="125.02" width="23.10" height="3.006" fill="#a8c4e0"/>
<rect x="289.60" y="125.02" width="23.40" height="3.006" fill="#cc5f48"/>
<rect x="360.40" y="125.02" width="23.20" height="3.006" fill="#95b6da"/>
<rect x="313.00" y="125.02" width="23.30" height="3.006" fill="#d06a50"/>
<rect x="383.60" y="125.02" width="23.00" height="3.006" fill="#b8cfe6"/>
<rect x="266.20" y="128.02" width="23.40" height="3.006" fill="#c04848"/>
<rect x="337.30" y="128.02" width="23.10" height="3.006" fill="#b8cfe6"/>
<rect x="289.60" y="128.02" width="23.40" height="3.006" fill="#cc5f48"/>
<rect x="360.40" y="128.02" width="23.20" height="3.006" fill="#95b6da"/>
<rect x="313.00" y="128.02" width="23.30" height="3.006" fill="#d06a50"/>
<rect x="383.60" y="128.02" width="23.00" height="3.006" fill="#c0d4ea"/>
<rect x="266.20" y="131.03" width="23.40" height="3.006" fill="#c85848"/>
<rect x="337.30" y="131.03" width="23.10" height="3.006" fill="#a8c4e0"/>
<rect x="289.60" y="131.03" width="23.40" height="3.006" fill="#d06a50"/>
<rect x="360.40" y="131.03" width="23.20" height="3.006" fill="#8fb2d7"/>
<rect x="313.00" y="131.03" width="23.30" height="3.006" fill="#dc8260"/>
<rect x="383.60" y="131.03" width="23.00" height="3.006" fill="#b8cfe6"/>
<rect x="266.20" y="134.04" width="23.40" height="3.006" fill="#cc5f48"/>
<rect x="337.30" y="134.04" width="23.10" height="3.006" fill="#b8cfe6"/>
<rect x="289.60" y="134.04" width="23.40" height="3.006" fill="#c85848"/>
<rect x="360.40" y="134.04" width="23.20" height="3.006" fill="#95b6da"/>
<rect x="313.00" y="134.04" width="23.30" height="3.006" fill="#d06a50"/>
<rect x="383.60" y="134.04" width="23.00" height="3.006" fill="#c0d4ea"/>
<rect x="266.20" y="137.04" width="23.40" height="3.006" fill="#c04848"/>
<rect x="337.30" y="137.04" width="23.10" height="3.006" fill="#95b6da"/>
<rect x="289.60" y="137.04" width="23.40" height="3.006" fill="#c85848"/>
<rect x="360.40" y="137.04" width="23.20" height="3.006" fill="#b0c8e2"/>
<rect x="313.00" y="137.04" width="23.30" height="3.006" fill="#cc5f48"/>
<rect x="383.60" y="137.04" width="23.00" height="3.006" fill="#b8cfe6"/>
<rect x="266.20" y="140.05" width="23.40" height="3.006" fill="#c85848"/>
<rect x="337.30" y="140.05" width="23.10" height="3.006" fill="#a0bedd"/>
<rect x="289.60" y="140.05" width="23.40" height="3.006" fill="#cc5f48"/>
<rect x="360.40" y="140.05" width="23.20" height="3.006" fill="#b8cfe6"/>
<rect x="313.00" y="140.05" width="23.30" height="3.006" fill="#d06a50"/>
<rect x="383.60" y="140.05" width="23.00" height="3.006" fill="#c0d4ea"/>
<rect x="266.20" y="143.05" width="23.40" height="3.006" fill="#cc5f48"/>
<rect x="337.30" y="143.05" width="23.10" height="3.006" fill="#95b6da"/>
<rect x="289.60" y="143.05" width="23.40" height="3.006" fill="#c85848"/>
<rect x="360.40" y="143.05" width="23.20" height="3.006" fill="#b0c8e2"/>
<rect x="313.00" y="143.05" width="23.30" height="3.006" fill="#d06a50"/>
<rect x="383.60" y="143.05" width="23.00" height="3.006" fill="#95b6da"/>
<rect x="266.20" y="146.06" width="23.40" height="3.006" fill="#c04848"/>
<rect x="337.30" y="146.06" width="23.10" height="3.006" fill="#a0bedd"/>
<rect x="289.60" y="146.06" width="23.40" height="3.006" fill="#d06a50"/>
<rect x="360.40" y="146.06" width="23.20" height="3.006" fill="#b8cfe6"/>
<rect x="313.00" y="146.06" width="23.30" height="3.006" fill="#cc5f48"/>
<rect x="383.60" y="146.06" width="23.00" height="3.006" fill="#95b6da"/>
<rect x="266.20" y="149.07" width="23.40" height="3.006" fill="#c85848"/>
<rect x="337.30" y="149.07" width="23.10" height="3.006" fill="#95b6da"/>
<rect x="289.60" y="149.07" width="23.40" height="3.006" fill="#cc5f48"/>
<rect x="360.40" y="149.07" width="23.20" height="3.006" fill="#b0c8e2"/>
<rect x="313.00" y="149.07" width="23.30" height="3.006" fill="#d06a50"/>
<rect x="383.60" y="149.07" width="23.00" height="3.006" fill="#9ebcdc"/>
<rect x="266.20" y="152.07" width="23.40" height="3.006" fill="#cc5f48"/>
<rect x="337.30" y="152.07" width="23.10" height="3.006" fill="#a0bedd"/>
<rect x="289.60" y="152.07" width="23.40" height="3.006" fill="#d06a50"/>
<rect x="360.40" y="152.07" width="23.20" height="3.006" fill="#b8cfe6"/>
<rect x="313.00" y="152.07" width="23.30" height="3.006" fill="#c85848"/>
<rect x="383.60" y="152.07" width="23.00" height="3.006" fill="#95b6da"/>
<rect x="266.20" y="155.08" width="23.40" height="3.006" fill="#c85848"/>
<rect x="337.30" y="155.08" width="23.10" height="3.006" fill="#95b6da"/>
<rect x="289.60" y="155.08" width="23.40" height="3.006" fill="#cc5f48"/>
<rect x="360.40" y="155.08" width="23.20" height="3.006" fill="#b0c8e2"/>
<rect x="313.00" y="155.08" width="23.30" height="3.006" fill="#d06a50"/>
<rect x="383.60" y="155.08" width="23.00" height="3.006" fill="#95b6da"/>
<rect x="266.20" y="158.08" width="23.40" height="3.006" fill="#cc5f48"/>
<rect x="337.30" y="158.08" width="23.10" height="3.006" fill="#6a92c8"/>
<rect x="289.60" y="158.08" width="23.40" height="3.006" fill="#d06a50"/>
<rect x="360.40" y="158.08" width="23.20" height="3.006" fill="#dde8f2"/>
<rect x="313.00" y="158.08" width="23.30" height="3.006" fill="#cc5f48"/>
<rect x="383.60" y="158.08" width="23.00" height="3.006" fill="#c0d4ea"/>
<rect x="266.20" y="161.09" width="23.40" height="3.006" fill="#c85848"/>
<rect x="337.30" y="161.09" width="23.10" height="3.006" fill="#7ea6d0"/>
<rect x="289.60" y="161.09" width="23.40" height="3.006" fill="#cc5f48"/>
<rect x="360.40" y="161.09" width="23.20" height="3.006" fill="#b8cfe6"/>
<rect x="313.00" y="161.09" width="23.30" height="3.006" fill="#d06a50"/>
<rect x="383.60" y="161.09" width="23.00" height="3.006" fill="#c8daec"/>
<rect x="266.20" y="164.10" width="23.40" height="3.006" fill="#cc5f48"/>
<rect x="337.30" y="164.10" width="23.10" height="3.006" fill="#8fb2d7"/>
<rect x="289.60" y="164.10" width="23.40" height="3.006" fill="#dc8260"/>
<rect x="360.40" y="164.10" width="23.20" height="3.006" fill="#a8c4e0"/>
<rect x="313.00" y="164.10" width="23.30" height="3.006" fill="#c04848"/>
<rect x="383.60" y="164.10" width="23.00" height="3.006" fill="#dde8f2"/>
<rect x="266.20" y="167.10" width="23.40" height="3.006" fill="#c85848"/>
<rect x="337.30" y="167.10" width="23.10" height="3.006" fill="#7ea6d0"/>
<rect x="289.60" y="167.10" width="23.40" height="3.006" fill="#e08a66"/>
<rect x="360.40" y="167.10" width="23.20" height="3.006" fill="#b8cfe6"/>
<rect x="313.00" y="167.10" width="23.30" height="3.006" fill="#c04848"/>
<rect x="383.60" y="167.10" width="23.00" height="3.006" fill="#b8cfe6"/>
<rect x="266.20" y="170.11" width="23.40" height="3.006" fill="#cc5f48"/>
<rect x="337.30" y="170.11" width="23.10" height="3.006" fill="#8fb2d7"/>
<rect x="289.60" y="170.11" width="23.40" height="3.006" fill="#cc5f48"/>
<rect x="360.40" y="170.11" width="23.20" height="3.006" fill="#a8c4e0"/>
<rect x="313.00" y="170.11" width="23.30" height="3.006" fill="#d06a50"/>
<rect x="383.60" y="170.11" width="23.00" height="3.006" fill="#b8cfe6"/>
<rect x="266.20" y="173.11" width="23.40" height="3.006" fill="#cc5f48"/>
<rect x="337.30" y="173.11" width="23.10" height="3.006" fill="#8fb2d7"/>
<rect x="289.60" y="173.11" width="23.40" height="3.006" fill="#d06a50"/>
<rect x="360.40" y="173.11" width="23.20" height="3.006" fill="#b0c8e2"/>
<rect x="313.00" y="173.11" width="23.30" height="3.006" fill="#d06a50"/>
<rect x="383.60" y="173.11" width="23.00" height="3.006" fill="#b8cfe6"/>
<path d="M266.2 39.10H406.6 M266.2 42.11H406.6 M266.2 45.11H406.6 M266.2 48.12H406.6 M266.2 51.12H406.6 M266.2 54.13H406.6 M266.2 57.14H406.6 M266.2 60.14H406.6 M266.2 63.15H406.6 M266.2 66.15H406.6 M266.2 69.16H406.6 M266.2 72.17H406.6 M266.2 73.92H406.6 M266.2 76.92H406.6 M266.2 79.93H406.6 M266.2 82.93H406.6 M266.2 85.94H406.6 M266.2 88.95H406.6 M266.2 91.95H406.6 M266.2 94.96H406.6 M266.2 97.96H406.6 M266.2 100.97H406.6 M266.2 103.98H406.6 M266.2 106.98H406.6 M266.2 109.99H406.6 M266.2 112.99H406.6 M266.2 116.00H406.6 M266.2 119.01H406.6 M266.2 122.01H406.6 M266.2 125.02H406.6 M266.2 128.02H406.6 M266.2 131.03H406.6 M266.2 134.04H406.6 M266.2 137.04H406.6 M266.2 140.05H406.6 M266.2 143.05H406.6 M266.2 146.06H406.6 M266.2 149.07H406.6 M266.2 152.07H406.6 M266.2 155.08H406.6 M266.2 158.08H406.6 M266.2 161.09H406.6 M266.2 164.10H406.6 M266.2 167.10H406.6 M266.2 170.11H406.6 M266.2 173.11H406.6 M266.2 176.12H406.6 M266.20 39.10V72.17M266.20 73.92V176.12 M289.60 39.10V72.17M289.60 73.92V176.12 M313.00 39.10V72.17M313.00 73.92V176.12 M336.30 39.10V72.17M336.30 73.92V176.12 M337.30 39.10V72.17M337.30 73.92V176.12 M360.40 39.10V72.17M360.40 73.92V176.12 M383.60 39.10V72.17M383.60 73.92V176.12 M406.60 39.10V72.17M406.60 73.92V176.12" stroke="#9a9a9a" stroke-width="0.55" fill="none" opacity="0.85"/>
<rect x="336.3" y="38" width="1.0" height="140" fill="#fff"/>
<rect x="265" y="72.17" width="143" height="1.75" fill="#fff"/>
<rect x="267" y="177.9" width="69" height="1.9" fill="#2a4a8a"/>
<rect x="338.3" y="177.9" width="68.2" height="1.9" fill="#2a4a8a"/>
<path d="M295.3 37.6V22.9H377.6V35.2 M277.7 39V37.6H324.5V39 M301 37.6V37.3H312.6V39 M301 37.4V39 M348.3 39V36.2H371V39 M360.3 36.2V35.2H394.5V39 M359.8 36.2V39" stroke="#222" stroke-width="0.8" fill="none"/>
<path d="M301 37.3H312.6" stroke="#222" stroke-width="1.0"/>
<path d="M360.3 35.3H371" stroke="#222" stroke-width="0.9"/>
<path d="M265.6 41H264.6V46H265.6 M264.6 43.5H263.8V52 M263.8 48H265.6 M263.8 52H264.8V60H265.6 M264.8 56H263.6V66 M263.6 62H265.6 M263.6 66H264.6V71H265.6" stroke="#222" stroke-width="0.6" fill="none"/>
<path d="M264.6 56.4H250.4V88.2H260.1 M260.1 77.3V99 M260.1 77.3H263.7 M263.7 73.8V81 M260.1 84.5H263.2V90 M260.1 99H262.2V125.2 M262.2 112H263.7 M262.2 125.2H263.7V145.7 M263.7 146.4V165.3 M263.7 165.3H265.3V172" stroke="#222" stroke-width="0.8" fill="none"/>
<path d="M264.8 40V71 M264.3 74V98 M263.8 100V124 M264.6 128V176" stroke="#222" stroke-width="0.9" fill="none" opacity="0.95"/>
<text transform="translate(409.6,41.50) skewX(0.5) scale(0.84,1)" font-size="3.2" fill="#4a4a4a">STAT4-mRNA</text>
<text transform="translate(409.6,44.51) skewX(0.5) scale(0.84,1)" font-size="3.2" fill="#4a4a4a">CBL-mRNA</text>
<text transform="translate(409.6,47.51) skewX(0.5) scale(0.84,1)" font-size="3.2" fill="#4a4a4a">p53-protein</text>
<text transform="translate(409.6,50.52) skewX(0.5) scale(0.84,1)" font-size="3.2" fill="#4a4a4a">CDF2R-mRNA</text>
<text transform="translate(409.6,53.52) skewX(0.5) scale(0.84,1)" font-size="3.2" fill="#4a4a4a">DNMT3A-mRNA</text>
<text transform="translate(409.6,56.53) skewX(0.5) scale(0.84,1)" font-size="3.2" fill="#4a4a4a">FYN-mRNA</text>
<text transform="translate(409.6,59.54) skewX(0.5) scale(0.84,1)" font-size="3.2" fill="#4a4a4a">PCBD1-mRNA</text>
<text transform="translate(409.6,62.54) skewX(0.5) scale(0.84,1)" font-size="3.2" fill="#4a4a4a">TP53-mRNA</text>
<text transform="translate(409.6,65.55) skewX(0.5) scale(0.84,1)" font-size="3.2" fill="#4a4a4a">GOF3-mRNA</text>
<text transform="translate(409.6,68.55) skewX(0.5) scale(0.84,1)" font-size="3.2" fill="#4a4a4a">KIT-mRNA</text>
<text transform="translate(409.6,71.56) skewX(0.5) scale(0.84,1)" font-size="3.2" fill="#4a4a4a">CDKN2A-mRNA</text>
<text transform="translate(409.6,76.32) skewX(0.5) scale(0.84,1)" font-size="3.2" fill="#4a4a4a">STAT5A-mRNA</text>
<text transform="translate(409.6,79.32) skewX(0.5) scale(0.84,1)" font-size="3.2" fill="#4a4a4a">CD79A-mRNA</text>
<text transform="translate(409.6,82.33) skewX(0.5) scale(0.84,1)" font-size="3.2" fill="#4a4a4a">CHEK1-mRNA</text>
<text transform="translate(409.6,85.33) skewX(0.5) scale(0.84,1)" font-size="3.2" fill="#4a4a4a">JAK3-mRNA</text>
<text transform="translate(409.6,88.34) skewX(0.5) scale(0.84,1)" font-size="3.2" fill="#4a4a4a">IL2RA-mRNA</text>
<text transform="translate(409.6,91.35) skewX(0.5) scale(0.84,1)" font-size="3.2" fill="#4a4a4a">EIF4E-mRNA</text>
<text transform="translate(409.6,94.35) skewX(0.5) scale(0.84,1)" font-size="3.2" fill="#4a4a4a">MYC-mRNA</text>
<text transform="translate(409.6,97.36) skewX(0.5) scale(0.84,1)" font-size="3.2" fill="#4a4a4a">HGF-mRNA</text>
<text transform="translate(409.6,100.36) skewX(0.5) scale(0.84,1)" font-size="3.2" fill="#4a4a4a">LCK-mRNA</text>
<text transform="translate(409.6,103.37) skewX(0.5) scale(0.84,1)" font-size="3.2" fill="#4a4a4a">MEIS1-mRNA</text>
<text transform="translate(409.6,106.38) skewX(0.5) scale(0.84,1)" font-size="3.2" fill="#4a4a4a">IDH1-mRNA</text>
<text transform="translate(409.6,109.38) skewX(0.5) scale(0.84,1)" font-size="3.2" fill="#4a4a4a">CCND3-mRNA</text>
<text transform="translate(409.6,112.39) skewX(0.5) scale(0.84,1)" font-size="3.2" fill="#4a4a4a">NUMA1-mRNA</text>
<text transform="translate(409.6,115.39) skewX(0.5) scale(0.84,1)" font-size="3.2" fill="#4a4a4a">RARA-mRNA</text>
<text transform="translate(409.6,118.40) skewX(0.5) scale(0.84,1)" font-size="3.2" fill="#4a4a4a">RHOA-mRNA</text>
<text transform="translate(409.6,121.41) skewX(0.5) scale(0.84,1)" font-size="3.2" fill="#4a4a4a">RAF1-mRNA</text>
<text transform="translate(409.6,124.41) skewX(0.5) scale(0.84,1)" font-size="3.2" fill="#4a4a4a">CD44-mRNA</text>
<text transform="translate(409.6,127.42) skewX(0.5) scale(0.84,1)" font-size="3.2" fill="#4a4a4a">RRAS-protein</text>
<text transform="translate(409.6,130.42) skewX(0.5) scale(0.84,1)" font-size="3.2" fill="#4a4a4a">RAC1-mRNA</text>
<text transform="translate(409.6,133.43) skewX(0.5) scale(0.84,1)" font-size="3.2" fill="#4a4a4a">SET-mRNA</text>
<text transform="translate(409.6,136.44) skewX(0.5) scale(0.84,1)" font-size="3.2" fill="#4a4a4a">CCND3-mRNA</text>
<text transform="translate(409.6,139.44) skewX(0.5) scale(0.84,1)" font-size="3.2" fill="#4a4a4a">IFYN-mRNA</text>
<text transform="translate(409.6,142.45) skewX(0.5) scale(0.84,1)" font-size="3.2" fill="#4a4a4a">IKZF1-mRNA</text>
<text transform="translate(409.6,145.45) skewX(0.5) scale(0.84,1)" font-size="3.2" fill="#4a4a4a">IRF1-mRNA</text>
<text transform="translate(409.6,148.46) skewX(0.5) scale(0.84,1)" font-size="3.2" fill="#4a4a4a">STAT1-mRNA</text>
<text transform="translate(409.6,151.47) skewX(0.5) scale(0.84,1)" font-size="3.2" fill="#4a4a4a">SYK-mRNA</text>
<text transform="translate(409.6,154.47) skewX(0.5) scale(0.84,1)" font-size="3.2" fill="#4a4a4a">PIM1-mRNA</text>
<text transform="translate(409.6,157.48) skewX(0.5) scale(0.84,1)" font-size="3.2" fill="#4a4a4a">LYN-mRNA</text>
<text transform="translate(409.6,160.48) skewX(0.5) scale(0.84,1)" font-size="3.2" fill="#4a4a4a">CD44-mRNA</text>
<text transform="translate(409.6,163.49) skewX(0.5) scale(0.84,1)" font-size="3.2" fill="#4a4a4a">HOXA9-mRNA</text>
<text transform="translate(409.6,166.50) skewX(0.5) scale(0.84,1)" font-size="3.2" fill="#4a4a4a">NF-kB-protein</text>
<text transform="translate(409.6,169.50) skewX(0.5) scale(0.84,1)" font-size="3.2" fill="#4a4a4a">IL-6-protein</text>
<text transform="translate(409.6,172.51) skewX(0.5) scale(0.84,1)" font-size="3.2" fill="#4a4a4a">BCL6-mRNA</text>
<text transform="translate(409.6,175.51) skewX(0.5) scale(0.84,1)" font-size="3.2" fill="#4a4a4a">CFR-mRNA</text>
<defs><linearGradient id="rdbu" x1="0" y1="0" x2="0" y2="1"><stop offset="0" stop-color="#a50f28"/><stop offset="0.2" stop-color="#d6604d"/><stop offset="0.33" stop-color="#f4a582"/><stop offset="0.43" stop-color="#fbe3d6"/><stop offset="0.52" stop-color="#f7f7f7"/><stop offset="0.62" stop-color="#d1e5f0"/><stop offset="0.75" stop-color="#92c5de"/><stop offset="0.87" stop-color="#4a85c0"/><stop offset="1" stop-color="#2a5aa0"/></linearGradient></defs>
<rect x="432.7" y="39" width="3.2" height="45.3" fill="url(#rdbu)"/>
<text transform="translate(438.8,43.9) skewX(0.5)" font-size="3.6" fill="#444">1</text>
<text transform="translate(438.8,51.9) skewX(0.5)" font-size="3.6" fill="#444">0.5</text>
<text transform="translate(438.8,59.9) skewX(0.5)" font-size="3.6" fill="#444">0</text>
<text transform="translate(438.8,67.8) skewX(0.5)" font-size="3.6" fill="#444">-0.5</text>
<text transform="translate(438.8,75.8) skewX(0.5)" font-size="3.6" fill="#444">-1</text>
<text transform="translate(438.8,83.5) skewX(0.5)" font-size="3.6" fill="#444">-1.5</text>
<text x="302.1" y="187.5" font-size="6.5" text-anchor="middle" fill="#222">KG-1 AML</text>
<text x="302.1" y="195.2" font-size="6.5" text-anchor="middle" fill="#222">(<tspan font-style="italic">TP53</tspan> LOF)</text>
<text x="372.0" y="187.5" font-size="6.5" text-anchor="middle" fill="#222">Kasumi-1 AML</text>
<text x="372.0" y="195.2" font-size="6.5" text-anchor="middle" fill="#222">(<tspan font-style="italic">TP53</tspan> GOF)</text>
<rect x="22.20" y="292.90" width="15.20" height="3.95" fill="#c24646"/>
<rect x="70.40" y="292.90" width="15.20" height="3.95" fill="#a8c4e0"/>
<rect x="37.40" y="292.90" width="15.40" height="3.95" fill="#d97e5e"/>
<rect x="85.60" y="292.90" width="15.20" height="3.95" fill="#7ea6d0"/>
<rect x="52.80" y="292.90" width="15.30" height="3.95" fill="#cc5f4a"/>
<rect x="100.80" y="292.90" width="15.30" height="3.95" fill="#a8c4e0"/>
<rect x="22.20" y="296.85" width="15.20" height="3.95" fill="#c24646"/>
<rect x="70.40" y="296.85" width="15.20" height="3.95" fill="#a8c4e0"/>
<rect x="37.40" y="296.85" width="15.40" height="3.95" fill="#d97e5e"/>
<rect x="85.60" y="296.85" width="15.20" height="3.95" fill="#8fb2d7"/>
<rect x="52.80" y="296.85" width="15.30" height="3.95" fill="#c85a4a"/>
<rect x="100.80" y="296.85" width="15.30" height="3.95" fill="#a8c4e0"/>
<rect x="22.20" y="300.80" width="15.20" height="3.95" fill="#c24646"/>
<rect x="70.40" y="300.80" width="15.20" height="3.95" fill="#a8c4e0"/>
<rect x="37.40" y="300.80" width="15.40" height="3.95" fill="#dd8866"/>
<rect x="85.60" y="300.80" width="15.20" height="3.95" fill="#8fb2d7"/>
<rect x="52.80" y="300.80" width="15.30" height="3.95" fill="#cc5f4a"/>
<rect x="100.80" y="300.80" width="15.30" height="3.95" fill="#a8c4e0"/>
<rect x="22.20" y="304.75" width="15.20" height="3.95" fill="#c24646"/>
<rect x="70.40" y="304.75" width="15.20" height="3.95" fill="#a8c4e0"/>
<rect x="37.40" y="304.75" width="15.40" height="3.95" fill="#d97e5e"/>
<rect x="85.60" y="304.75" width="15.20" height="3.95" fill="#8fb2d7"/>
<rect x="52.80" y="304.75" width="15.30" height="3.95" fill="#c85a4a"/>
<rect x="100.80" y="304.75" width="15.30" height="3.95" fill="#a8c4e0"/>
<rect x="22.20" y="308.70" width="15.20" height="3.95" fill="#d06a50"/>
<rect x="70.40" y="308.70" width="15.20" height="3.95" fill="#7ea6d0"/>
<rect x="37.40" y="308.70" width="15.40" height="3.95" fill="#c85848"/>
<rect x="85.60" y="308.70" width="15.20" height="3.95" fill="#a5c1df"/>
<rect x="52.80" y="308.70" width="15.30" height="3.95" fill="#cc5f48"/>
<rect x="100.80" y="308.70" width="15.30" height="3.95" fill="#a8c4e0"/>
<rect x="22.20" y="312.65" width="15.20" height="3.95" fill="#cc5f48"/>
<rect x="70.40" y="312.65" width="15.20" height="3.95" fill="#a8c4e0"/>
<rect x="37.40" y="312.65" width="15.40" height="3.95" fill="#cc5f48"/>
<rect x="85.60" y="312.65" width="15.20" height="3.95" fill="#9ebcdc"/>
<rect x="52.80" y="312.65" width="15.30" height="3.95" fill="#cc5f48"/>
<rect x="100.80" y="312.65" width="15.30" height="3.95" fill="#8fb2d7"/>
<rect x="22.20" y="316.60" width="15.20" height="3.95" fill="#cc5f48"/>
<rect x="70.40" y="316.60" width="15.20" height="3.95" fill="#9ebcdc"/>
<rect x="37.40" y="316.60" width="15.40" height="3.95" fill="#d06a50"/>
<rect x="85.60" y="316.60" width="15.20" height="3.95" fill="#a8c4e0"/>
<rect x="52.80" y="316.60" width="15.30" height="3.95" fill="#c04848"/>
<rect x="100.80" y="316.60" width="15.30" height="3.95" fill="#8fb2d7"/>
<rect x="22.20" y="320.55" width="15.20" height="3.95" fill="#cc5f48"/>
<rect x="70.40" y="320.55" width="15.20" height="3.95" fill="#9ebcdc"/>
<rect x="37.40" y="320.55" width="15.40" height="3.95" fill="#cc5f48"/>
<rect x="85.60" y="320.55" width="15.20" height="3.95" fill="#a8c4e0"/>
<rect x="52.80" y="320.55" width="15.30" height="3.95" fill="#cc5f48"/>
<rect x="100.80" y="320.55" width="15.30" height="3.95" fill="#9ebcdc"/>
<rect x="22.20" y="324.50" width="15.20" height="3.95" fill="#cc5f48"/>
<rect x="70.40" y="324.50" width="15.20" height="3.95" fill="#9ebcdc"/>
<rect x="37.40" y="324.50" width="15.40" height="3.95" fill="#d06a50"/>
<rect x="85.60" y="324.50" width="15.20" height="3.95" fill="#a8c4e0"/>
<rect x="52.80" y="324.50" width="15.30" height="3.95" fill="#c85848"/>
<rect x="100.80" y="324.50" width="15.30" height="3.95" fill="#8fb2d7"/>
<rect x="22.20" y="328.45" width="15.20" height="3.95" fill="#cc5f48"/>
<rect x="70.40" y="328.45" width="15.20" height="3.95" fill="#9ebcdc"/>
<rect x="37.40" y="328.45" width="15.40" height="3.95" fill="#cc5f48"/>
<rect x="85.60" y="328.45" width="15.20" height="3.95" fill="#8fb2d7"/>
<rect x="52.80" y="328.45" width="15.30" height="3.95" fill="#cc5f48"/>
<rect x="100.80" y="328.45" width="15.30" height="3.95" fill="#a8c4e0"/>
<rect x="22.20" y="332.40" width="15.20" height="3.95" fill="#cc5f48"/>
<rect x="70.40" y="332.40" width="15.20" height="3.95" fill="#9ebcdc"/>
<rect x="37.40" y="332.40" width="15.40" height="3.95" fill="#cc5f48"/>
<rect x="85.60" y="332.40" width="15.20" height="3.95" fill="#9ebcdc"/>
<rect x="52.80" y="332.40" width="15.30" height="3.95" fill="#c85848"/>
<rect x="100.80" y="332.40" width="15.30" height="3.95" fill="#a8c4e0"/>
<rect x="22.20" y="338.05" width="15.20" height="3.8" fill="#9ebcdc"/>
<rect x="70.40" y="338.05" width="15.20" height="3.8" fill="#c04848"/>
<rect x="37.40" y="338.05" width="15.40" height="3.8" fill="#a8c4e0"/>
<rect x="85.60" y="338.05" width="15.20" height="3.8" fill="#dc7e5c"/>
<rect x="52.80" y="338.05" width="15.30" height="3.8" fill="#9ebcdc"/>
<rect x="100.80" y="338.05" width="15.30" height="3.8" fill="#c04848"/>
<rect x="22.20" y="341.85" width="15.20" height="3.8" fill="#7ea6d0"/>
<rect x="70.40" y="341.85" width="15.20" height="3.8" fill="#dc7e5c"/>
<rect x="37.40" y="341.85" width="15.40" height="3.8" fill="#b0c8e2"/>
<rect x="85.60" y="341.85" width="15.20" height="3.8" fill="#c85848"/>
<rect x="52.80" y="341.85" width="15.30" height="3.8" fill="#a8c4e0"/>
<rect x="100.80" y="341.85" width="15.30" height="3.8" fill="#cc5f48"/>
<path d="M22.2 292.90H116.1 M22.2 296.85H116.1 M22.2 300.80H116.1 M22.2 304.75H116.1 M22.2 308.70H116.1 M22.2 312.65H116.1 M22.2 316.60H116.1 M22.2 320.55H116.1 M22.2 324.50H116.1 M22.2 328.45H116.1 M22.2 332.40H116.1 M22.2 336.35H116.1M22.2 338.05H116.1 M22.2 341.85H116.1 M22.2 345.65H116.1 M22.20 292.90V336.35M22.20 338.05V345.65 M37.40 292.90V336.35M37.40 338.05V345.65 M52.80 292.90V336.35M52.80 338.05V345.65 M68.10 292.90V336.35M68.10 338.05V345.65 M70.40 292.90V336.35M70.40 338.05V345.65 M85.60 292.90V336.35M85.60 338.05V345.65 M100.80 292.90V336.35M100.80 338.05V345.65 M116.10 292.90V336.35M116.10 338.05V345.65" stroke="#cfcfcf" stroke-width="0.6" fill="none"/>
<rect x="68.1" y="288" width="2.3" height="60" fill="#fff"/>
<rect x="20" y="336.35" width="100" height="1.7" fill="#fff"/>
<rect x="22.2" y="289.1" width="45.9" height="2.6" fill="#8f80c8"/>
<rect x="70.4" y="289.1" width="45.7" height="2.6" fill="#5aa83a"/>
<path d="M41.4 288.3V273.5H89.5V288.3" stroke="#222" stroke-width="0.8" fill="none"/>
<path d="M29.8 289.1V288.3H60.5V289.1 M77.4 289.1V288.3H108.1V289.1" stroke="#666" stroke-width="0.8" fill="none"/>
<path d="M22 306.1H6.6V341.2H22" stroke="#333" stroke-width="0.8" fill="none"/>
<text transform="translate(119,291.6) skewX(0.5)" font-size="3.3" font-weight="bold" fill="#222">Cell line</text>
<text transform="translate(119,296.07) skewX(0.5) scale(0.92,1)" font-size="3.4" fill="#3a3a3a">TCR Signaling</text>
<text transform="translate(119,300.02) skewX(0.5) scale(0.92,1)" font-size="3.4" fill="#3a3a3a">BCR Signaling</text>
<text transform="translate(119,303.97) skewX(0.5) scale(0.92,1)" font-size="3.4" fill="#3a3a3a">Immunoregulation</text>
<text transform="translate(119,307.93) skewX(0.5) scale(0.92,1)" font-size="3.4" fill="#3a3a3a">NF-kB</text>
<text transform="translate(119,311.88) skewX(0.5) scale(0.92,1)" font-size="3.4" fill="#3a3a3a">Cell Cycle</text>
<text transform="translate(119,315.82) skewX(0.5) scale(0.92,1)" font-size="3.4" fill="#3a3a3a">Cytokine Signaling</text>
<text transform="translate(119,319.77) skewX(0.5) scale(0.92,1)" font-size="3.4" fill="#3a3a3a">MYC</text>
<text transform="translate(119,323.72) skewX(0.5) scale(0.92,1)" font-size="3.4" fill="#3a3a3a">JAK-STAT</text>
<text transform="translate(119,327.68) skewX(0.5) scale(0.92,1)" font-size="3.4" fill="#3a3a3a">PI3K</text>
<text transform="translate(119,331.62) skewX(0.5) scale(0.92,1)" font-size="3.4" fill="#3a3a3a">Apoptosis &amp; DNA Damage</text>
<text transform="translate(119,335.57) skewX(0.5) scale(0.92,1)" font-size="3.4" fill="#3a3a3a">Epigenetics and Transcription</text>
<text transform="translate(119,341.15) skewX(0.5) scale(0.92,1)" font-size="3.4" fill="#3a3a3a">Driver Gene</text>
<text transform="translate(119,344.95) skewX(0.5) scale(0.92,1)" font-size="3.4" fill="#3a3a3a">MAPK</text>
<rect x="163.3" y="288.3" width="2.4" height="43.3" fill="url(#rdbu)"/>
<text transform="translate(168.6,292.8) skewX(0.5)" font-size="3.2" fill="#333">1</text>
<text transform="translate(168.6,300.9) skewX(0.5)" font-size="3.2" fill="#333">0.5</text>
<text transform="translate(168.6,308.7) skewX(0.5)" font-size="3.2" fill="#333">0</text>
<text transform="translate(168.6,316.8) skewX(0.5)" font-size="3.2" fill="#333">-0.5</text>
<text transform="translate(168.6,324.8) skewX(0.5)" font-size="3.2" fill="#333">-1</text>
<text transform="translate(168.6,332.6) skewX(0.5)" font-size="3.2" fill="#333">-1.5</text>
<text transform="translate(177,288.2) skewX(0.5)" font-size="3.3" font-weight="bold" fill="#222">Cell line</text>
<rect x="177.8" y="292" width="3.7" height="3.2" fill="#5aa83a"/>
<rect x="177.8" y="296.3" width="3.7" height="3.2" fill="#8f80c8"/>
<text transform="translate(184.4,294.8) skewX(0.5)" font-size="3.1" fill="#333">Kasumi1</text>
<text transform="translate(184.4,299) skewX(0.5)" font-size="3.1" fill="#333">KG1</text>
<text x="375.5" y="264.2" font-size="8.4" text-anchor="middle" fill="#222">TCGA-AML</text>
<line x1="239.8" y1="269.2" x2="239.8" y2="380.2" stroke="#111" stroke-width="1.1"/><line x1="239.3" y1="379.8" x2="356.20000000000005" y2="379.8" stroke="#111" stroke-width="1.1"/><line x1="236.8" y1="375.70" x2="239.8" y2="375.70" stroke="#111" stroke-width="0.9"/><text x="233.9" y="377.40" font-size="6.3" text-anchor="end" fill="#222" stroke="#222" stroke-width="0.12">0.0</text><line x1="236.8" y1="355.22" x2="239.8" y2="355.22" stroke="#111" stroke-width="0.9"/><text x="233.9" y="356.92" font-size="6.3" text-anchor="end" fill="#222" stroke="#222" stroke-width="0.12">0.2</text><line x1="236.8" y1="334.74" x2="239.8" y2="334.74" stroke="#111" stroke-width="0.9"/><text x="233.9" y="336.44" font-size="6.3" text-anchor="end" fill="#222" stroke="#222" stroke-width="0.12">0.4</text><line x1="236.8" y1="314.26" x2="239.8" y2="314.26" stroke="#111" stroke-width="0.9"/><text x="233.9" y="315.96" font-size="6.3" text-anchor="end" fill="#222" stroke="#222" stroke-width="0.12">0.6</text><line x1="236.8" y1="293.78" x2="239.8" y2="293.78" stroke="#111" stroke-width="0.9"/><text x="233.9" y="295.48" font-size="6.3" text-anchor="end" fill="#222" stroke="#222" stroke-width="0.12">0.8</text><line x1="236.8" y1="273.30" x2="239.8" y2="273.30" stroke="#111" stroke-width="0.9"/><text x="233.9" y="275.00" font-size="6.3" text-anchor="end" fill="#222" stroke="#222" stroke-width="0.12">1.0</text><line x1="239.80" y1="379.8" x2="239.80" y2="382.4" stroke="#111" stroke-width="0.9"/><text x="239.80" y="392" font-size="6.6" text-anchor="middle" fill="#222" stroke="#222" stroke-width="0.12">0</text><line x1="263.20" y1="379.8" x2="263.20" y2="382.4" stroke="#111" stroke-width="0.9"/><text x="263.20" y="392" font-size="6.6" text-anchor="middle" fill="#222" stroke="#222" stroke-width="0.12">20</text><line x1="286.60" y1="379.8" x2="286.60" y2="382.4" stroke="#111" stroke-width="0.9"/><text x="286.60" y="392" font-size="6.6" text-anchor="middle" fill="#222" stroke="#222" stroke-width="0.12">40</text><line x1="310.00" y1="379.8" x2="310.00" y2="382.4" stroke="#111" stroke-width="0.9"/><text x="310.00" y="392" font-size="6.6" text-anchor="middle" fill="#222" stroke="#222" stroke-width="0.12">60</text><line x1="333.40" y1="379.8" x2="333.40" y2="382.4" stroke="#111" stroke-width="0.9"/><text x="333.40" y="392" font-size="6.6" text-anchor="middle" fill="#222" stroke="#222" stroke-width="0.12">80</text><g transform="translate(297.9,403.8) scale(0.62,1)"><text x="0" y="0" font-size="8.5" font-weight="bold" text-anchor="middle" fill="#222">Months</text></g><g transform="translate(218.6,322.7) rotate(-90) scale(0.67,1)"><text x="0" y="0" font-size="7.4" font-weight="bold" text-anchor="middle" fill="#222">Percent survival</text></g>
<path d="M239.80 273.30H247.87V273.30H249.04V279.44H251.50V282.52H252.98V284.56H254.46V286.61H255.95V288.66H257.55V289.17H259.16V289.68H260.77V290.20H262.38V290.71H263.84V292.76H265.31V294.80H266.94V295.83H268.58V296.85H270.22V297.88H272.05V299.17H273.89V300.47H275.72V301.77H303.56V301.77H303.56V304.02H345.10" stroke="#2b4a8b" stroke-width="0.8" fill="none" opacity="0.75" stroke-dasharray="0.9 1.1"/>
<path d="M239.80 273.30H241.59V278.42H243.39V283.54H245.18V288.66H246.85V292.50H248.52V296.34H250.18V300.18H251.85V304.02H253.57V306.24H255.28V308.46H257.00V310.68H258.54V312.36H260.09V314.03H261.63V315.71H263.18V317.39H264.72V319.07H266.12V320.54H267.53V322.01H268.93V323.48H270.63V327.32H272.33V331.16H273.14V332.28H303.56V332.28H303.56V339.25H351.54" stroke="#2b4a8b" stroke-width="0.8" fill="none" opacity="0.75" stroke-dasharray="0.9 1.1"/>
<path d="M239.80 273.30H241.52V275.01H243.23V276.71H244.95V278.42H246.66V280.13H248.38V281.83H250.10V283.54H251.82V285.69H253.55V287.84H255.27V289.99H257.00V292.14H258.70V295.11H260.39V298.08H262.09V301.05H263.79V304.02H265.50V306.82H267.22V309.62H268.93V312.42H270.63V314.21H272.33V316.00H274.02V317.79H275.72V319.58H294.56V319.58H294.56V327.06H326.38" stroke="#b2163c" stroke-width="0.8" fill="none" opacity="0.8" stroke-dasharray="0.9 1.1"/>
<path d="M239.80 273.30H241.79V280.47H243.49V287.64H245.18V294.80H246.90V299.00H248.61V303.20H250.33V307.40H251.97V310.20H253.61V313.00H255.24V315.80H256.96V318.01H258.68V320.23H260.39V322.45H261.84V325.52H263.28V328.60H264.72V331.67H266.29V334.94H267.86V338.22H269.42V341.50H270.99V344.78H272.56V348.05H273.14V353.99H294.79V353.99H294.79V362.80H327.55" stroke="#b2163c" stroke-width="0.8" fill="none" opacity="0.8" stroke-dasharray="0.9 1.1"/>
<path d="M239.80 273.30H242.14V273.30H242.14V280.47H247.52V280.47H247.52V291.73H249.98V294.80H251.79V297.62H253.61V300.44H255.36V301.97H257.12V303.51H258.40V303.76H259.69V304.02H261.29V305.86H262.89V307.71H264.49V309.55H266.36V310.16H268.23V310.78H270.04V312.93H271.86V315.08H273.67V317.08H275.49V319.07H303.56V319.07H303.56V324.50H352.12" stroke="#2b4a8b" stroke-width="1.35" fill="none" opacity="1.0"/>
<path d="M239.80 273.30H241.20V277.40H242.61V281.49H244.32V285.59H246.04V289.68H247.76V293.78H249.98V296.75H251.58V298.63H253.18V300.50H254.78V302.38H255.36V307.09H256.80V309.48H258.25V311.87H259.69V314.26H261.50V317.33H263.32V320.40H265.13V322.96H266.94V325.52H268.76V327.83H270.57V330.13H272.44V335.05H273.26V340.88H294.79V340.88H295.14V346.00H295.96V350.92H327.55" stroke="#b2163c" stroke-width="1.35" fill="none" opacity="1.0"/>
<path d="M280.40 317.47V320.67" stroke="#2b4a8b" stroke-width="0.9"/><path d="M284.03 317.47V320.67" stroke="#2b4a8b" stroke-width="0.9"/><path d="M286.95 317.47V320.67" stroke="#2b4a8b" stroke-width="0.9"/><path d="M290.11 317.47V320.67" stroke="#2b4a8b" stroke-width="0.9"/><path d="M295.61 317.47V320.67" stroke="#2b4a8b" stroke-width="0.9"/><path d="M307.54 322.90V326.10" stroke="#2b4a8b" stroke-width="0.9"/><path d="M310.59 322.90V326.10" stroke="#2b4a8b" stroke-width="0.9"/><path d="M313.63 322.90V326.10" stroke="#2b4a8b" stroke-width="0.9"/><path d="M322.52 322.90V326.10" stroke="#2b4a8b" stroke-width="0.9"/><path d="M329.42 322.90V326.10" stroke="#2b4a8b" stroke-width="0.9"/><path d="M337.50 322.90V326.10" stroke="#2b4a8b" stroke-width="0.9"/><path d="M351.89 322.90V326.10" stroke="#2b4a8b" stroke-width="0.9"/>
<path d="M274.31 339.28V342.48" stroke="#b2163c" stroke-width="0.9"/><path d="M309.88 349.32V352.52" stroke="#b2163c" stroke-width="0.9"/><circle cx="286.95" cy="340.88" r="1.4" fill="#b2163c"/><circle cx="297.72" cy="350.92" r="1.4" fill="#b2163c"/><circle cx="301.23" cy="350.92" r="1.4" fill="#b2163c"/>
<line x1="285.0" y1="274.4" x2="293.6" y2="274.4" stroke="#2b4a8b" stroke-width="1.2"/><line x1="285.0" y1="280.3" x2="293.6" y2="280.3" stroke="#b2163c" stroke-width="1.2"/><text x="296.9" y="276.3" font-size="5.4" fill="#222">Low 34 Signatures Group</text><text x="296.9" y="282.2" font-size="5.4" fill="#222">High 34 Signatures Group</text><text x="357.7" y="288.10" font-size="5.4" text-anchor="end" fill="#222">Logrank p=0.048</text><text x="357.7" y="294.05" font-size="5.4" text-anchor="end" fill="#222">HR(high)=1.7</text><text x="357.7" y="300.00" font-size="5.4" text-anchor="end" fill="#222">p(HR)=0.053</text><text x="357.7" y="305.95" font-size="5.4" text-anchor="end" fill="#222">n(high)=53</text><text x="357.7" y="311.90" font-size="5.4" text-anchor="end" fill="#222">n(low)=53</text>
<text x="244.6" y="375.6" font-size="6.4" fill="#222">KG-1 AML signature</text>
<line x1="394.8" y1="269.2" x2="394.8" y2="380.2" stroke="#111" stroke-width="1.1"/><line x1="394.3" y1="379.8" x2="511.20000000000005" y2="379.8" stroke="#111" stroke-width="1.1"/><line x1="391.8" y1="375.70" x2="394.8" y2="375.70" stroke="#111" stroke-width="0.9"/><text x="388.9" y="377.40" font-size="6.3" text-anchor="end" fill="#222" stroke="#222" stroke-width="0.12">0.0</text><line x1="391.8" y1="355.22" x2="394.8" y2="355.22" stroke="#111" stroke-width="0.9"/><text x="388.9" y="356.92" font-size="6.3" text-anchor="end" fill="#222" stroke="#222" stroke-width="0.12">0.2</text><line x1="391.8" y1="334.74" x2="394.8" y2="334.74" stroke="#111" stroke-width="0.9"/><text x="388.9" y="336.44" font-size="6.3" text-anchor="end" fill="#222" stroke="#222" stroke-width="0.12">0.4</text><line x1="391.8" y1="314.26" x2="394.8" y2="314.26" stroke="#111" stroke-width="0.9"/><text x="388.9" y="315.96" font-size="6.3" text-anchor="end" fill="#222" stroke="#222" stroke-width="0.12">0.6</text><line x1="391.8" y1="293.78" x2="394.8" y2="293.78" stroke="#111" stroke-width="0.9"/><text x="388.9" y="295.48" font-size="6.3" text-anchor="end" fill="#222" stroke="#222" stroke-width="0.12">0.8</text><line x1="391.8" y1="273.30" x2="394.8" y2="273.30" stroke="#111" stroke-width="0.9"/><text x="388.9" y="275.00" font-size="6.3" text-anchor="end" fill="#222" stroke="#222" stroke-width="0.12">1.0</text><line x1="394.80" y1="379.8" x2="394.80" y2="382.4" stroke="#111" stroke-width="0.9"/><text x="394.80" y="392" font-size="6.6" text-anchor="middle" fill="#222" stroke="#222" stroke-width="0.12">0</text><line x1="418.20" y1="379.8" x2="418.20" y2="382.4" stroke="#111" stroke-width="0.9"/><text x="418.20" y="392" font-size="6.6" text-anchor="middle" fill="#222" stroke="#222" stroke-width="0.12">20</text><line x1="441.60" y1="379.8" x2="441.60" y2="382.4" stroke="#111" stroke-width="0.9"/><text x="441.60" y="392" font-size="6.6" text-anchor="middle" fill="#222" stroke="#222" stroke-width="0.12">40</text><line x1="465.00" y1="379.8" x2="465.00" y2="382.4" stroke="#111" stroke-width="0.9"/><text x="465.00" y="392" font-size="6.6" text-anchor="middle" fill="#222" stroke="#222" stroke-width="0.12">60</text><line x1="488.40" y1="379.8" x2="488.40" y2="382.4" stroke="#111" stroke-width="0.9"/><text x="488.40" y="392" font-size="6.6" text-anchor="middle" fill="#222" stroke="#222" stroke-width="0.12">80</text><g transform="translate(452.9,403.8) scale(0.62,1)"><text x="0" y="0" font-size="8.5" font-weight="bold" text-anchor="middle" fill="#222">Months</text></g><g transform="translate(373.6,322.7) rotate(-90) scale(0.67,1)"><text x="0" y="0" font-size="7.4" font-weight="bold" text-anchor="middle" fill="#222">Percent survival</text></g>
<path d="M394.80 273.30H396.41V275.09H398.02V276.88H399.63V278.68H401.24V280.47H402.73V281.59H404.23V282.72H405.73V283.85H407.23V284.97H408.72V286.10H410.51V287.00H412.29V287.89H414.08V288.79H415.86V289.68H418.20V293.78H419.66V295.83H421.12V297.88H422.69V299.92H424.25V301.97H425.81V304.02H427.09V307.09H428.38V310.16H449.56V310.16H449.56V314.26H506.54" stroke="#b2163c" stroke-width="0.8" fill="none" opacity="0.8" stroke-dasharray="0.9 1.1"/>
<path d="M394.80 273.30H400.65V273.30H402.41V277.40H404.00V281.49H405.60V285.59H407.20V289.68H408.70V291.12H410.20V292.55H411.69V293.98H413.19V295.42H414.69V296.85H416.42V298.29H418.15V299.72H419.88V301.15H421.62V302.59H423.35V304.02H424.84V305.17H426.33V306.32H427.82V307.48H429.31V308.63H430.84V310.16H449.79V310.16H449.79V312.21H458.21V312.21H458.21V315.80H492.50" stroke="#2b4a8b" stroke-width="0.8" fill="none" opacity="0.75" stroke-dasharray="0.9 1.1"/>
<path d="M394.80 273.30H395.97V280.47H397.73V286.10H399.48V291.73H400.88V294.80H402.29V297.88H403.69V300.95H405.41V304.36H407.12V307.77H408.84V311.19H410.56V313.75H412.27V316.31H413.99V318.87H415.70V321.43H417.42V323.99H419.14V326.55H420.54V328.83H421.94V331.12H423.35V333.41H424.58V335.61H425.81V337.81H426.86V347.03H449.79V347.03H449.79V351.64H506.54" stroke="#b2163c" stroke-width="0.8" fill="none" opacity="0.8" stroke-dasharray="0.9 1.1"/>
<path d="M394.80 273.30H396.67V279.96H398.54V286.61H400.30V292.24H402.05V297.88H403.50V300.95H404.94V304.02H406.38V307.09H407.79V309.31H409.19V311.53H410.60V313.75H412.27V316.65H413.95V319.55H415.63V322.45H417.38V325.01H419.14V327.57H420.81V329.62H422.49V331.67H424.17V333.72H425.69V335.38H427.21V337.04H428.73V338.71H430.25V340.37H449.79V340.37H449.79V346.52H458.21V346.52H458.21V353.17H492.50" stroke="#2b4a8b" stroke-width="0.8" fill="none" opacity="0.75" stroke-dasharray="0.9 1.1"/>
<path d="M394.80 273.30H397.02V273.30H397.02V280.47H400.42V280.47H401.78V284.22H403.15V287.98H404.51V291.73H405.80V295.32H407.09V298.90H408.96V302.48H410.83V306.07H412.64V309.14H414.46V312.21H415.86V314.26H417.26V316.31H418.71V317.13H420.15V317.95H421.59V318.77H423.00V319.99H424.40V321.22H425.81V322.45H427.48V324.06H429.16V325.66H430.84V327.26H450.02V327.26H450.02V332.69H459.15V332.69H459.15V339.25H493.08" stroke="#2b4a8b" stroke-width="1.35" fill="none" opacity="1.0"/>
<path d="M394.80 273.30H397.26V273.30H397.26V280.47H398.90V282.52H400.53V284.56H402.17V286.61H404.04V290.20H405.92V293.78H407.75V295.15H409.58V296.51H411.41V297.88H412.82V299.58H414.22V301.29H415.63V303.00H417.21V304.02H418.79V305.04H419.37V312.21H420.95V314.77H422.53V317.33H424.58V319.38H426.62V321.43H427.09V321.43H427.09V333.41H449.56V333.41H449.56V337.50H506.89" stroke="#b2163c" stroke-width="1.35" fill="none" opacity="1.0"/>
<path d="M435.40 325.66V328.86" stroke="#2b4a8b" stroke-width="0.9"/><path d="M439.85 325.66V328.86" stroke="#2b4a8b" stroke-width="0.9"/><path d="M441.25 325.66V328.86" stroke="#2b4a8b" stroke-width="0.9"/><path d="M444.88 325.66V328.86" stroke="#2b4a8b" stroke-width="0.9"/><path d="M454.82 331.09V334.29" stroke="#2b4a8b" stroke-width="0.9"/><path d="M462.31 337.65V340.85" stroke="#2b4a8b" stroke-width="0.9"/><path d="M477.17 337.65V340.85" stroke="#2b4a8b" stroke-width="0.9"/><path d="M483.60 337.65V340.85" stroke="#2b4a8b" stroke-width="0.9"/><path d="M493.08 337.65V340.85" stroke="#2b4a8b" stroke-width="0.9"/>
<path d="M442.65 331.81V335.01" stroke="#b2163c" stroke-width="0.9"/><path d="M451.55 335.90V339.10" stroke="#b2163c" stroke-width="0.9"/><path d="M454.47 335.90V339.10" stroke="#b2163c" stroke-width="0.9"/><path d="M468.04 335.90V339.10" stroke="#b2163c" stroke-width="0.9"/><path d="M506.89 335.90V339.10" stroke="#b2163c" stroke-width="0.9"/><circle cx="465.23" cy="337.50" r="1.4" fill="#b2163c"/>
<line x1="440.0" y1="274.4" x2="448.6" y2="274.4" stroke="#2b4a8b" stroke-width="1.2"/><line x1="440.0" y1="280.3" x2="448.6" y2="280.3" stroke="#b2163c" stroke-width="1.2"/><text x="451.9" y="276.3" font-size="5.4" fill="#222">Low 10 Signatures Group</text><text x="451.9" y="282.2" font-size="5.4" fill="#222">High 10 Signatures Group</text><text x="512.7" y="288.10" font-size="5.4" text-anchor="end" fill="#222">Logrank p=0.92</text><text x="512.7" y="294.05" font-size="5.4" text-anchor="end" fill="#222">HR(high)=0.97</text><text x="512.7" y="300.00" font-size="5.4" text-anchor="end" fill="#222">p(HR)=0.92</text><text x="512.7" y="305.95" font-size="5.4" text-anchor="end" fill="#222">n(high)=53</text><text x="512.7" y="311.90" font-size="5.4" text-anchor="end" fill="#222">n(low)=53</text>
<text x="399.8" y="375.6" font-size="6.4" fill="#222">Kasumi-1 AML signature</text>
</svg></body></html>
